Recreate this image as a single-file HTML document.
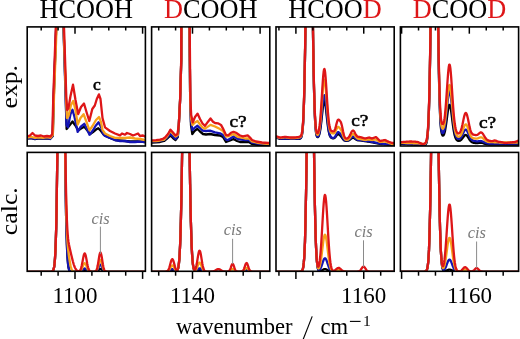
<!DOCTYPE html><html><head><meta charset="utf-8"><style>html,body{margin:0;padding:0;background:#fff;width:520px;height:339px;overflow:hidden}svg{display:block;will-change:transform}text{font-family:"Liberation Serif",serif}</style></head><body>
<svg width="520" height="339" viewBox="0 0 520 339">
<defs>
<clipPath id="c00"><rect x="27.2" y="26.9" width="118.2" height="119.1"/></clipPath>
<clipPath id="c01"><rect x="27.2" y="152.4" width="118.2" height="118.9"/></clipPath>
<clipPath id="c10"><rect x="151.6" y="26.9" width="118.2" height="119.1"/></clipPath>
<clipPath id="c11"><rect x="151.6" y="152.4" width="118.2" height="118.9"/></clipPath>
<clipPath id="c20"><rect x="276.0" y="26.9" width="118.2" height="119.1"/></clipPath>
<clipPath id="c21"><rect x="276.0" y="152.4" width="118.2" height="118.9"/></clipPath>
<clipPath id="c30"><rect x="400.4" y="26.9" width="118.2" height="119.1"/></clipPath>
<clipPath id="c31"><rect x="400.4" y="152.4" width="118.2" height="118.9"/></clipPath>
</defs>
<g clip-path="url(#c00)" fill="none" stroke-linejoin="round" stroke-linecap="round">
<path d="M27.0,138.5 L31.0,138.2 L35.0,139.2 L39.0,138.4 L43.0,138.6 L47.0,138.3 L50.0,139.0 L52.8,136.0 L53.8,97.0 L56.2,27.0 L60.0,-80.0 L63.5,27.0 L65.8,97.0 L66.6,129.0 L69.0,126.0 L72.5,121.5 L75.0,125.0 L78.4,130.4 L81.0,128.5 L84.3,126.7 L87.0,130.0 L90.2,134.0 L93.0,132.0 L96.0,129.5 L98.3,128.2 L101.0,131.0 L104.0,135.0 L109.4,137.8 L115.0,140.0 L120.0,140.5 L125.0,141.0 L130.0,141.5 L135.0,141.5 L140.0,141.5 L145.0,142.0" stroke="#000000" stroke-width="2.3"/>
<path d="M27.0,138.2 L31.0,137.8 L35.0,139.0 L39.0,138.0 L43.0,138.3 L47.0,138.0 L50.0,139.0 L52.6,136.0 L53.6,97.0 L56.2,27.0 L60.0,-80.0 L63.5,27.0 L65.6,97.0 L66.5,125.0 L68.0,127.0 L70.5,114.0 L72.5,109.7 L74.5,117.0 L77.7,131.9 L80.5,127.0 L84.3,123.8 L87.0,129.0 L89.5,134.8 L92.5,131.0 L95.5,126.0 L98.6,122.3 L101.0,127.0 L103.0,133.5 L105.0,136.0 L110.0,138.0 L115.0,140.0 L120.0,141.0 L125.0,141.0 L130.0,142.0 L135.0,142.0 L140.0,141.5 L145.0,142.0" stroke="#1414b4" stroke-width="2.3"/>
<path d="M27.0,137.5 L31.0,136.8 L35.0,137.8 L39.0,137.3 L43.0,137.8 L47.0,137.2 L50.5,137.8 L52.8,135.0 L54.0,97.0 L56.6,27.0 L60.0,-80.0 L63.6,27.0 L65.9,97.0 L67.0,118.0 L68.5,116.0 L71.0,105.0 L73.3,100.9 L75.5,110.0 L77.7,124.5 L80.5,118.0 L83.6,114.2 L86.5,122.0 L89.5,130.4 L92.5,126.0 L96.0,120.0 L99.0,117.0 L101.0,122.0 L102.5,129.8 L105.0,133.5 L110.0,136.0 L115.0,137.8 L120.0,138.0 L125.0,138.0 L130.0,137.5 L135.0,138.5 L140.0,139.0 L145.0,140.0" stroke="#f7a21b" stroke-width="2.3"/>
<path d="M27.0,136.5 L30.0,135.5 L32.5,133.0 L35.0,135.5 L38.0,136.0 L41.0,135.5 L44.0,136.5 L47.0,136.0 L50.5,136.5 L52.3,134.0 L53.3,97.0 L55.8,27.0 L60.0,-80.0 L64.0,27.0 L66.3,97.0 L67.2,110.0 L68.5,108.0 L70.5,96.0 L73.0,84.7 L75.5,100.0 L78.2,114.0 L81.0,107.0 L84.0,103.5 L86.5,112.0 L89.3,121.0 L92.3,109.0 L94.8,105.5 L96.8,99.0 L98.9,94.4 L100.5,99.0 L102.5,118.0 L105.0,127.3 L110.0,131.0 L115.0,133.5 L120.0,135.4 L122.0,133.5 L125.0,134.7 L127.0,133.0 L130.0,134.0 L133.0,135.5 L135.0,134.7 L138.0,133.5 L140.0,136.0 L143.0,135.5 L145.0,136.6" stroke="#de1618" stroke-width="2.3"/>
</g>
<g clip-path="url(#c01)" fill="none" stroke-linejoin="round" stroke-linecap="round">
<path d="M27.0,271.8 L27.4,271.8 L27.8,271.8 L28.2,271.8 L28.6,271.8 L29.0,271.8 L29.4,271.8 L29.8,271.8 L30.2,271.8 L30.6,271.8 L31.0,271.8 L31.4,271.8 L31.8,271.8 L32.2,271.8 L32.6,271.8 L33.0,271.8 L33.4,271.8 L33.8,271.8 L34.2,271.8 L34.6,271.8 L35.0,271.8 L35.4,271.8 L35.8,271.8 L36.2,271.8 L36.6,271.8 L37.0,271.8 L37.4,271.8 L37.8,271.8 L38.2,271.8 L38.6,271.8 L39.0,271.8 L39.4,271.8 L39.8,271.8 L40.2,271.8 L40.6,271.8 L41.0,271.8 L41.4,271.8 L41.8,271.8 L42.2,271.8 L42.6,271.8 L43.0,271.8 L43.4,271.8 L43.8,271.8 L44.2,271.8 L44.6,271.8 L45.0,271.8 L45.4,271.8 L45.8,271.8 L46.2,271.8 L46.6,271.8 L47.0,271.8 L47.4,271.8 L47.8,271.8 L48.2,271.8 L48.6,271.8 L49.0,271.8 L49.4,271.8 L49.8,271.8 L50.2,271.8 L50.6,271.8 L51.0,271.8 L51.4,271.7 L51.8,271.6 L52.2,271.5 L52.6,271.2 L53.0,270.7 L53.4,269.9 L53.8,268.6 L54.2,266.5 L54.6,263.3 L55.0,258.4 L55.4,251.3 L55.8,241.3 L56.2,227.7 L56.6,209.7 L56.9,186.8 L57.3,158.6 L57.7,125.2 L58.1,87.0 L58.5,45.4 L58.9,1.9 L59.3,-41.1 L59.7,-60.0 L60.1,-60.0 L60.5,-60.0 L60.9,-60.0 L61.3,-60.0 L61.7,-60.0 L62.1,-60.0 L62.5,-60.0 L62.9,-60.0 L63.3,-27.9 L63.7,15.5 L64.1,58.7 L64.5,99.4 L64.9,136.1 L65.3,167.9 L65.7,194.5 L66.1,215.8 L66.5,232.4 L66.9,244.8 L67.3,253.8 L67.7,260.1 L68.1,264.4 L68.5,267.3 L68.9,269.1 L69.3,270.2 L69.7,270.9 L70.1,271.3 L70.5,271.5 L70.9,271.7 L71.3,271.7 L71.7,271.8 L72.1,271.8 L72.5,271.8 L72.9,271.8 L73.3,271.8 L73.7,271.8 L74.1,271.8 L74.5,271.8 L74.9,271.8 L75.3,271.8 L75.7,271.8 L76.1,271.8 L76.5,271.8 L76.9,271.8 L77.3,271.8 L77.7,271.8 L78.1,271.8 L78.5,271.8 L78.9,271.8 L79.3,271.7 L79.7,271.7 L80.1,271.7 L80.5,271.6 L80.9,271.5 L81.3,271.3 L81.7,271.1 L82.1,270.9 L82.5,270.7 L82.9,270.5 L83.3,270.2 L83.7,270.0 L84.1,269.9 L84.5,269.8 L84.9,269.8 L85.3,269.9 L85.7,270.0 L86.1,270.2 L86.5,270.5 L86.9,270.7 L87.3,270.9 L87.7,271.1 L88.1,271.3 L88.5,271.5 L88.9,271.6 L89.3,271.7 L89.7,271.7 L90.1,271.7 L90.5,271.8 L90.9,271.8 L91.3,271.8 L91.7,271.8 L92.1,271.8 L92.5,271.8 L92.9,271.8 L93.3,271.8 L93.7,271.8 L94.1,271.8 L94.5,271.8 L94.9,271.8 L95.3,271.7 L95.7,271.7 L96.1,271.6 L96.5,271.5 L96.9,271.4 L97.3,271.2 L97.7,270.9 L98.1,270.5 L98.5,270.2 L98.9,269.8 L99.3,269.4 L99.7,269.1 L100.1,268.9 L100.5,268.9 L100.9,269.0 L101.3,269.2 L101.7,269.5 L102.1,269.9 L102.5,270.3 L102.9,270.7 L103.3,271.0 L103.7,271.2 L104.1,271.4 L104.5,271.6 L104.9,271.7 L105.3,271.7 L105.7,271.8 L106.1,271.8 L106.5,271.8 L106.9,271.8 L107.3,271.8 L107.7,271.8 L108.1,271.8 L108.5,271.8 L108.9,271.8 L109.3,271.8 L109.7,271.8 L110.1,271.8 L110.5,271.8 L110.9,271.8 L111.3,271.8 L111.7,271.8 L112.1,271.8 L112.5,271.8 L112.9,271.8 L113.3,271.8 L113.7,271.8 L114.1,271.8 L114.5,271.8 L114.9,271.8 L115.3,271.8 L115.7,271.8 L116.1,271.8 L116.4,271.8 L116.8,271.8 L117.2,271.8 L117.6,271.8 L118.0,271.8 L118.4,271.8 L118.8,271.8 L119.2,271.8 L119.6,271.8 L120.0,271.8 L120.4,271.8 L120.8,271.8 L121.2,271.8 L121.6,271.8 L122.0,271.8 L122.4,271.8 L122.8,271.8 L123.2,271.8 L123.6,271.8 L124.0,271.8 L124.4,271.8 L124.8,271.8 L125.2,271.8 L125.6,271.8 L126.0,271.8 L126.4,271.8 L126.8,271.8 L127.2,271.8 L127.6,271.8 L128.0,271.8 L128.4,271.8 L128.8,271.8 L129.2,271.8 L129.6,271.8 L130.0,271.8 L130.4,271.8 L130.8,271.8 L131.2,271.8 L131.6,271.8 L132.0,271.8 L132.4,271.8 L132.8,271.8 L133.2,271.8 L133.6,271.8 L134.0,271.8 L134.4,271.8 L134.8,271.8 L135.2,271.8 L135.6,271.8 L136.0,271.8 L136.4,271.8 L136.8,271.8 L137.2,271.8 L137.6,271.8 L138.0,271.8 L138.4,271.8 L138.8,271.8 L139.2,271.8 L139.6,271.8 L140.0,271.8 L140.4,271.8 L140.8,271.8 L141.2,271.8 L141.6,271.8 L142.0,271.8 L142.4,271.8 L142.8,271.8 L143.2,271.8 L143.6,271.8 L144.0,271.8 L144.4,271.8 L144.8,271.8 L145.2,271.8 L145.6,271.8 L146.0,271.8" stroke="#000000" stroke-width="2.3"/>
<path d="M27.0,271.8 L27.4,271.8 L27.8,271.8 L28.2,271.8 L28.6,271.8 L29.0,271.8 L29.4,271.8 L29.8,271.8 L30.2,271.8 L30.6,271.8 L31.0,271.8 L31.4,271.8 L31.8,271.8 L32.2,271.8 L32.6,271.8 L33.0,271.8 L33.4,271.8 L33.8,271.8 L34.2,271.8 L34.6,271.8 L35.0,271.8 L35.4,271.8 L35.8,271.8 L36.2,271.8 L36.6,271.8 L37.0,271.8 L37.4,271.8 L37.8,271.8 L38.2,271.8 L38.6,271.8 L39.0,271.8 L39.4,271.8 L39.8,271.8 L40.2,271.8 L40.6,271.8 L41.0,271.8 L41.4,271.8 L41.8,271.8 L42.2,271.8 L42.6,271.8 L43.0,271.8 L43.4,271.8 L43.8,271.8 L44.2,271.8 L44.6,271.8 L45.0,271.8 L45.4,271.8 L45.8,271.8 L46.2,271.8 L46.6,271.8 L47.0,271.8 L47.4,271.8 L47.8,271.8 L48.2,271.8 L48.6,271.8 L49.0,271.8 L49.4,271.8 L49.8,271.8 L50.2,271.8 L50.6,271.8 L51.0,271.8 L51.4,271.7 L51.8,271.6 L52.2,271.5 L52.6,271.2 L53.0,270.7 L53.4,269.9 L53.8,268.6 L54.2,266.5 L54.6,263.3 L55.0,258.4 L55.4,251.3 L55.8,241.3 L56.2,227.7 L56.6,209.7 L56.9,186.8 L57.3,158.6 L57.7,125.2 L58.1,87.0 L58.5,45.4 L58.9,1.9 L59.3,-41.1 L59.7,-60.0 L60.1,-60.0 L60.5,-60.0 L60.9,-60.0 L61.3,-60.0 L61.7,-60.0 L62.1,-60.0 L62.5,-60.0 L62.9,-60.0 L63.3,-27.9 L63.7,15.5 L64.1,58.7 L64.5,99.4 L64.9,136.1 L65.3,167.9 L65.7,194.5 L66.1,215.8 L66.5,232.4 L66.9,244.8 L67.3,253.8 L67.7,260.1 L68.1,264.4 L68.5,267.3 L68.9,269.1 L69.3,270.2 L69.7,270.9 L70.1,271.3 L70.5,271.5 L70.9,271.7 L71.3,271.7 L71.7,271.8 L72.1,271.8 L72.5,271.8 L72.9,271.8 L73.3,271.8 L73.7,271.8 L74.1,271.8 L74.5,271.8 L74.9,271.8 L75.3,271.8 L75.7,271.8 L76.1,271.8 L76.5,271.8 L76.9,271.8 L77.3,271.8 L77.7,271.8 L78.1,271.8 L78.5,271.8 L78.9,271.7 L79.3,271.7 L79.7,271.7 L80.1,271.6 L80.5,271.4 L80.9,271.3 L81.3,271.0 L81.7,270.7 L82.1,270.4 L82.5,270.0 L82.9,269.6 L83.3,269.2 L83.7,268.9 L84.1,268.6 L84.5,268.5 L84.9,268.5 L85.3,268.6 L85.7,268.9 L86.1,269.2 L86.5,269.6 L86.9,270.0 L87.3,270.4 L87.7,270.7 L88.1,271.0 L88.5,271.3 L88.9,271.4 L89.3,271.6 L89.7,271.7 L90.1,271.7 L90.5,271.8 L90.9,271.8 L91.3,271.8 L91.7,271.8 L92.1,271.8 L92.5,271.8 L92.9,271.8 L93.3,271.8 L93.7,271.8 L94.1,271.8 L94.5,271.8 L94.9,271.7 L95.3,271.7 L95.7,271.6 L96.1,271.4 L96.5,271.1 L96.9,270.7 L97.3,270.2 L97.7,269.5 L98.1,268.7 L98.5,267.7 L98.9,266.8 L99.3,265.9 L99.7,265.2 L100.1,264.7 L100.5,264.6 L100.9,264.8 L101.3,265.4 L101.7,266.2 L102.1,267.1 L102.5,268.1 L102.9,269.0 L103.3,269.8 L103.7,270.4 L104.1,270.9 L104.5,271.2 L104.9,271.5 L105.3,271.6 L105.7,271.7 L106.1,271.7 L106.5,271.8 L106.9,271.8 L107.3,271.8 L107.7,271.8 L108.1,271.8 L108.5,271.8 L108.9,271.8 L109.3,271.8 L109.7,271.8 L110.1,271.8 L110.5,271.8 L110.9,271.8 L111.3,271.8 L111.7,271.8 L112.1,271.8 L112.5,271.8 L112.9,271.8 L113.3,271.8 L113.7,271.8 L114.1,271.8 L114.5,271.8 L114.9,271.8 L115.3,271.8 L115.7,271.8 L116.1,271.8 L116.4,271.8 L116.8,271.8 L117.2,271.8 L117.6,271.8 L118.0,271.8 L118.4,271.8 L118.8,271.8 L119.2,271.8 L119.6,271.8 L120.0,271.8 L120.4,271.8 L120.8,271.8 L121.2,271.8 L121.6,271.8 L122.0,271.8 L122.4,271.8 L122.8,271.8 L123.2,271.8 L123.6,271.8 L124.0,271.8 L124.4,271.8 L124.8,271.8 L125.2,271.8 L125.6,271.8 L126.0,271.8 L126.4,271.8 L126.8,271.8 L127.2,271.8 L127.6,271.8 L128.0,271.8 L128.4,271.8 L128.8,271.8 L129.2,271.8 L129.6,271.8 L130.0,271.8 L130.4,271.8 L130.8,271.8 L131.2,271.8 L131.6,271.8 L132.0,271.8 L132.4,271.8 L132.8,271.8 L133.2,271.8 L133.6,271.8 L134.0,271.8 L134.4,271.8 L134.8,271.8 L135.2,271.8 L135.6,271.8 L136.0,271.8 L136.4,271.8 L136.8,271.8 L137.2,271.8 L137.6,271.8 L138.0,271.8 L138.4,271.8 L138.8,271.8 L139.2,271.8 L139.6,271.8 L140.0,271.8 L140.4,271.8 L140.8,271.8 L141.2,271.8 L141.6,271.8 L142.0,271.8 L142.4,271.8 L142.8,271.8 L143.2,271.8 L143.6,271.8 L144.0,271.8 L144.4,271.8 L144.8,271.8 L145.2,271.8 L145.6,271.8 L146.0,271.8" stroke="#1414b4" stroke-width="2.3"/>
<path d="M27.0,271.8 L27.4,271.8 L27.8,271.8 L28.2,271.8 L28.6,271.8 L29.0,271.8 L29.4,271.8 L29.8,271.8 L30.2,271.8 L30.6,271.8 L31.0,271.8 L31.4,271.8 L31.8,271.8 L32.2,271.8 L32.6,271.8 L33.0,271.8 L33.4,271.8 L33.8,271.8 L34.2,271.8 L34.6,271.8 L35.0,271.8 L35.4,271.8 L35.8,271.8 L36.2,271.8 L36.6,271.8 L37.0,271.8 L37.4,271.8 L37.8,271.8 L38.2,271.8 L38.6,271.8 L39.0,271.8 L39.4,271.8 L39.8,271.8 L40.2,271.8 L40.6,271.8 L41.0,271.8 L41.4,271.8 L41.8,271.8 L42.2,271.8 L42.6,271.8 L43.0,271.8 L43.4,271.8 L43.8,271.8 L44.2,271.8 L44.6,271.8 L45.0,271.8 L45.4,271.8 L45.8,271.8 L46.2,271.8 L46.6,271.8 L47.0,271.8 L47.4,271.8 L47.8,271.8 L48.2,271.8 L48.6,271.8 L49.0,271.8 L49.4,271.8 L49.8,271.8 L50.2,271.8 L50.6,271.8 L51.0,271.8 L51.4,271.7 L51.8,271.6 L52.2,271.5 L52.6,271.2 L53.0,270.7 L53.4,269.9 L53.8,268.6 L54.2,266.5 L54.6,263.3 L55.0,258.4 L55.4,251.3 L55.8,241.3 L56.2,227.7 L56.6,209.7 L56.9,186.8 L57.3,158.6 L57.7,125.2 L58.1,87.0 L58.5,45.4 L58.9,1.9 L59.3,-41.1 L59.7,-60.0 L60.1,-60.0 L60.5,-60.0 L60.9,-60.0 L61.3,-60.0 L61.7,-60.0 L62.1,-60.0 L62.5,-60.0 L62.9,-60.0 L63.3,-28.9 L63.7,13.9 L64.1,56.2 L64.5,95.8 L64.9,131.2 L65.3,161.4 L65.7,186.1 L66.1,205.6 L66.5,220.3 L66.9,231.2 L67.3,239.1 L67.7,244.9 L68.1,249.2 L68.5,252.7 L68.9,255.8 L69.3,258.5 L69.7,261.0 L70.1,263.2 L70.5,265.3 L70.9,267.0 L71.3,268.4 L71.7,269.4 L72.1,270.2 L72.5,270.8 L72.9,271.2 L73.3,271.5 L73.7,271.6 L74.1,271.7 L74.5,271.7 L74.9,271.8 L75.3,271.8 L75.7,271.8 L76.1,271.8 L76.5,271.8 L76.9,271.8 L77.3,271.8 L77.7,271.8 L78.1,271.8 L78.5,271.7 L78.9,271.7 L79.3,271.6 L79.7,271.4 L80.1,271.2 L80.5,270.8 L80.9,270.4 L81.3,269.8 L81.7,269.0 L82.1,268.1 L82.5,267.1 L82.9,266.0 L83.3,265.1 L83.7,264.2 L84.1,263.6 L84.5,263.2 L84.9,263.2 L85.3,263.6 L85.7,264.2 L86.1,265.1 L86.5,266.1 L86.9,267.1 L87.3,268.1 L87.7,269.0 L88.1,269.8 L88.5,270.4 L88.9,270.8 L89.3,271.2 L89.7,271.4 L90.1,271.6 L90.5,271.7 L90.9,271.7 L91.3,271.8 L91.7,271.8 L92.1,271.8 L92.5,271.8 L92.9,271.8 L93.3,271.8 L93.7,271.8 L94.1,271.8 L94.5,271.7 L94.9,271.7 L95.3,271.6 L95.7,271.4 L96.1,271.1 L96.5,270.7 L96.9,270.0 L97.3,269.1 L97.7,268.0 L98.1,266.6 L98.5,265.0 L98.9,263.4 L99.3,261.9 L99.7,260.7 L100.1,260.0 L100.5,259.8 L100.9,260.2 L101.3,261.1 L101.7,262.5 L102.1,264.0 L102.5,265.6 L102.9,267.1 L103.3,268.4 L103.7,269.5 L104.1,270.3 L104.5,270.9 L104.9,271.2 L105.3,271.5 L105.7,271.6 L106.1,271.7 L106.5,271.8 L106.9,271.8 L107.3,271.8 L107.7,271.8 L108.1,271.8 L108.5,271.8 L108.9,271.8 L109.3,271.8 L109.7,271.8 L110.1,271.8 L110.5,271.8 L110.9,271.8 L111.3,271.8 L111.7,271.8 L112.1,271.8 L112.5,271.8 L112.9,271.8 L113.3,271.8 L113.7,271.8 L114.1,271.8 L114.5,271.8 L114.9,271.8 L115.3,271.8 L115.7,271.8 L116.1,271.8 L116.4,271.8 L116.8,271.8 L117.2,271.8 L117.6,271.8 L118.0,271.8 L118.4,271.8 L118.8,271.8 L119.2,271.8 L119.6,271.8 L120.0,271.8 L120.4,271.8 L120.8,271.8 L121.2,271.8 L121.6,271.8 L122.0,271.8 L122.4,271.8 L122.8,271.8 L123.2,271.8 L123.6,271.8 L124.0,271.8 L124.4,271.8 L124.8,271.8 L125.2,271.8 L125.6,271.8 L126.0,271.8 L126.4,271.8 L126.8,271.8 L127.2,271.8 L127.6,271.8 L128.0,271.8 L128.4,271.8 L128.8,271.8 L129.2,271.8 L129.6,271.8 L130.0,271.8 L130.4,271.8 L130.8,271.8 L131.2,271.8 L131.6,271.8 L132.0,271.8 L132.4,271.8 L132.8,271.8 L133.2,271.8 L133.6,271.8 L134.0,271.8 L134.4,271.8 L134.8,271.8 L135.2,271.8 L135.6,271.8 L136.0,271.8 L136.4,271.8 L136.8,271.8 L137.2,271.8 L137.6,271.8 L138.0,271.8 L138.4,271.8 L138.8,271.8 L139.2,271.8 L139.6,271.8 L140.0,271.8 L140.4,271.8 L140.8,271.8 L141.2,271.8 L141.6,271.8 L142.0,271.8 L142.4,271.8 L142.8,271.8 L143.2,271.8 L143.6,271.8 L144.0,271.8 L144.4,271.8 L144.8,271.8 L145.2,271.8 L145.6,271.8 L146.0,271.8" stroke="#f7a21b" stroke-width="2.3"/>
<path d="M27.0,271.8 L27.4,271.8 L27.8,271.8 L28.2,271.8 L28.6,271.8 L29.0,271.8 L29.4,271.8 L29.8,271.8 L30.2,271.8 L30.6,271.8 L31.0,271.8 L31.4,271.8 L31.8,271.8 L32.2,271.8 L32.6,271.8 L33.0,271.8 L33.4,271.8 L33.8,271.8 L34.2,271.8 L34.6,271.8 L35.0,271.8 L35.4,271.8 L35.8,271.8 L36.2,271.8 L36.6,271.8 L37.0,271.8 L37.4,271.8 L37.8,271.8 L38.2,271.8 L38.6,271.8 L39.0,271.8 L39.4,271.8 L39.8,271.8 L40.2,271.8 L40.6,271.8 L41.0,271.8 L41.4,271.8 L41.8,271.8 L42.2,271.8 L42.6,271.8 L43.0,271.8 L43.4,271.8 L43.8,271.8 L44.2,271.8 L44.6,271.8 L45.0,271.8 L45.4,271.8 L45.8,271.8 L46.2,271.8 L46.6,271.8 L47.0,271.8 L47.4,271.8 L47.8,271.8 L48.2,271.8 L48.6,271.8 L49.0,271.8 L49.4,271.8 L49.8,271.8 L50.2,271.8 L50.6,271.8 L51.0,271.8 L51.4,271.7 L51.8,271.6 L52.2,271.5 L52.6,271.2 L53.0,270.7 L53.4,269.9 L53.8,268.6 L54.2,266.5 L54.6,263.2 L55.0,258.3 L55.4,251.2 L55.8,241.2 L56.2,227.5 L56.6,209.4 L56.9,186.4 L57.3,158.1 L57.7,124.5 L58.1,86.2 L58.5,44.3 L58.9,0.5 L59.3,-42.9 L59.7,-60.0 L60.1,-60.0 L60.5,-60.0 L60.9,-60.0 L61.3,-60.0 L61.7,-60.0 L62.1,-60.0 L62.5,-60.0 L62.9,-60.0 L63.3,-40.0 L63.7,1.8 L64.1,43.2 L64.5,82.3 L64.9,117.4 L65.3,147.6 L65.7,172.7 L66.1,192.8 L66.5,208.2 L66.9,219.8 L67.3,228.3 L67.7,234.3 L68.1,238.7 L68.5,241.9 L68.9,244.3 L69.3,246.3 L69.7,248.1 L70.1,249.8 L70.5,251.5 L70.9,253.2 L71.3,254.9 L71.7,256.6 L72.1,258.3 L72.5,259.9 L72.9,261.5 L73.3,262.9 L73.7,264.3 L74.1,265.5 L74.5,266.5 L74.9,267.5 L75.3,268.3 L75.7,269.0 L76.1,269.6 L76.5,270.1 L76.9,270.4 L77.3,270.7 L77.7,271.0 L78.1,271.1 L78.5,271.2 L78.9,271.2 L79.3,271.1 L79.7,270.8 L80.1,270.4 L80.5,269.7 L80.9,268.7 L81.3,267.4 L81.7,265.8 L82.1,263.8 L82.5,261.7 L82.9,259.5 L83.3,257.4 L83.7,255.5 L84.1,254.2 L84.5,253.5 L84.9,253.5 L85.3,254.2 L85.7,255.6 L86.1,257.4 L86.5,259.5 L86.9,261.7 L87.3,263.9 L87.7,265.8 L88.1,267.5 L88.5,268.8 L88.9,269.8 L89.3,270.5 L89.7,271.0 L90.1,271.3 L90.5,271.5 L90.9,271.6 L91.3,271.7 L91.7,271.8 L92.1,271.8 L92.5,271.8 L92.9,271.8 L93.3,271.8 L93.7,271.8 L94.1,271.8 L94.5,271.7 L94.9,271.6 L95.3,271.5 L95.7,271.2 L96.1,270.7 L96.5,270.0 L96.9,268.9 L97.3,267.5 L97.7,265.6 L98.1,263.4 L98.5,260.9 L98.9,258.3 L99.3,255.9 L99.7,254.0 L100.1,252.8 L100.5,252.5 L100.9,253.2 L101.3,254.7 L101.7,256.8 L102.1,259.3 L102.5,261.9 L102.9,264.3 L103.3,266.4 L103.7,268.1 L104.1,269.4 L104.5,270.3 L104.9,270.9 L105.3,271.3 L105.7,271.5 L106.1,271.7 L106.5,271.7 L106.9,271.8 L107.3,271.8 L107.7,271.8 L108.1,271.8 L108.5,271.8 L108.9,271.8 L109.3,271.8 L109.7,271.8 L110.1,271.8 L110.5,271.8 L110.9,271.8 L111.3,271.8 L111.7,271.8 L112.1,271.8 L112.5,271.8 L112.9,271.8 L113.3,271.8 L113.7,271.8 L114.1,271.8 L114.5,271.8 L114.9,271.8 L115.3,271.8 L115.7,271.8 L116.1,271.8 L116.4,271.8 L116.8,271.8 L117.2,271.8 L117.6,271.8 L118.0,271.8 L118.4,271.8 L118.8,271.8 L119.2,271.8 L119.6,271.8 L120.0,271.8 L120.4,271.8 L120.8,271.8 L121.2,271.8 L121.6,271.8 L122.0,271.8 L122.4,271.8 L122.8,271.8 L123.2,271.8 L123.6,271.8 L124.0,271.8 L124.4,271.8 L124.8,271.8 L125.2,271.8 L125.6,271.8 L126.0,271.8 L126.4,271.8 L126.8,271.8 L127.2,271.8 L127.6,271.8 L128.0,271.8 L128.4,271.8 L128.8,271.8 L129.2,271.8 L129.6,271.8 L130.0,271.8 L130.4,271.8 L130.8,271.8 L131.2,271.8 L131.6,271.8 L132.0,271.8 L132.4,271.8 L132.8,271.8 L133.2,271.8 L133.6,271.8 L134.0,271.8 L134.4,271.8 L134.8,271.8 L135.2,271.8 L135.6,271.8 L136.0,271.8 L136.4,271.8 L136.8,271.8 L137.2,271.8 L137.6,271.8 L138.0,271.8 L138.4,271.8 L138.8,271.8 L139.2,271.8 L139.6,271.8 L140.0,271.8 L140.4,271.8 L140.8,271.8 L141.2,271.8 L141.6,271.8 L142.0,271.8 L142.4,271.8 L142.8,271.8 L143.2,271.8 L143.6,271.8 L144.0,271.8 L144.4,271.8 L144.8,271.8 L145.2,271.8 L145.6,271.8 L146.0,271.8" stroke="#de1618" stroke-width="2.3"/>
</g>
<g clip-path="url(#c10)" fill="none" stroke-linejoin="round" stroke-linecap="round">
<path d="M152.0,142.5 L156.0,142.3 L160.0,142.0 L164.0,141.0 L167.0,138.5 L170.5,135.5 L173.0,138.0 L175.5,140.0 L177.8,137.0 L178.8,125.0 L180.1,100.0 L181.3,60.0 L181.5,27.0 L185.5,-80.0 L189.5,27.0 L189.8,60.0 L190.2,100.0 L191.0,125.0 L192.3,134.0 L194.5,131.0 L197.3,128.8 L200.0,131.5 L203.0,134.0 L206.0,134.5 L210.0,134.0 L215.0,135.0 L220.0,135.5 L223.0,137.0 L226.0,142.0 L230.0,140.5 L233.5,139.0 L237.0,141.0 L240.0,142.0 L245.0,142.0 L249.0,142.0 L252.0,144.0 L258.0,145.0 L264.0,145.3 L270.0,145.5" stroke="#000000" stroke-width="2.3"/>
<path d="M152.0,141.5 L156.0,141.3 L160.0,141.0 L164.0,140.0 L167.0,137.5 L170.5,134.0 L173.0,136.5 L175.5,139.0 L177.8,136.0 L178.8,125.0 L180.1,100.0 L181.3,60.0 L181.5,27.0 L185.5,-80.0 L189.5,27.0 L189.8,60.0 L190.2,100.0 L191.0,122.0 L192.5,130.0 L195.0,127.5 L197.5,125.8 L200.0,128.0 L202.5,130.5 L206.0,131.0 L210.0,130.7 L215.0,132.3 L220.0,133.3 L223.0,134.9 L226.0,139.7 L228.0,140.0 L233.5,136.5 L238.0,139.0 L245.0,140.0 L249.0,140.0 L252.0,142.5 L258.0,143.5 L264.0,144.2 L270.0,144.5" stroke="#1414b4" stroke-width="2.3"/>
<path d="M152.0,141.2 L156.0,141.0 L160.0,140.5 L164.0,139.6 L167.0,136.5 L170.5,131.0 L173.0,133.8 L175.5,136.5 L177.8,135.0 L178.8,125.0 L180.1,100.0 L181.3,60.0 L181.5,27.0 L185.5,-80.0 L189.5,27.0 L189.8,60.0 L190.2,100.0 L191.0,118.0 L192.5,125.0 L195.0,122.5 L197.5,121.0 L200.0,124.5 L202.5,127.5 L205.0,128.6 L210.5,124.9 L215.0,126.5 L220.0,129.1 L223.0,131.0 L226.0,136.5 L229.0,136.0 L233.5,134.0 L238.0,137.0 L245.0,138.5 L249.0,138.5 L252.0,141.5 L258.0,142.8 L264.0,143.5 L270.0,144.0" stroke="#f7a21b" stroke-width="2.3"/>
<path d="M152.0,140.4 L156.0,140.2 L160.0,139.7 L163.0,138.8 L165.0,137.5 L168.0,134.0 L170.5,129.7 L173.0,132.5 L175.5,135.4 L177.5,134.0 L178.8,125.0 L180.1,100.0 L181.2,60.0 L181.3,27.0 L185.5,-80.0 L189.7,27.0 L190.0,60.0 L190.4,100.0 L191.2,115.0 L192.8,122.4 L195.0,117.0 L197.5,113.6 L200.0,119.0 L202.5,123.5 L205.0,125.9 L208.0,121.7 L210.5,118.5 L213.0,121.7 L215.0,123.0 L218.0,123.3 L221.0,124.9 L223.0,128.6 L226.0,134.9 L228.0,135.5 L231.0,132.8 L233.5,131.8 L236.0,132.8 L240.0,135.5 L243.0,136.3 L247.7,135.3 L250.0,137.5 L252.0,140.0 L256.0,141.5 L262.0,142.5 L268.0,143.0 L270.0,143.0" stroke="#de1618" stroke-width="2.3"/>
</g>
<g clip-path="url(#c11)" fill="none" stroke-linejoin="round" stroke-linecap="round">
<path d="M151.0,271.8 L151.4,271.8 L151.8,271.8 L152.2,271.8 L152.6,271.8 L153.0,271.8 L153.4,271.8 L153.8,271.8 L154.2,271.8 L154.6,271.8 L155.0,271.8 L155.4,271.8 L155.8,271.8 L156.2,271.8 L156.6,271.8 L157.0,271.8 L157.4,271.8 L157.8,271.8 L158.2,271.8 L158.6,271.8 L159.0,271.8 L159.4,271.8 L159.8,271.8 L160.2,271.8 L160.6,271.8 L161.0,271.8 L161.4,271.8 L161.8,271.8 L162.2,271.8 L162.6,271.8 L163.0,271.8 L163.4,271.8 L163.8,271.8 L164.2,271.8 L164.6,271.8 L165.0,271.8 L165.4,271.8 L165.8,271.8 L166.1,271.8 L166.5,271.8 L166.9,271.7 L167.3,271.7 L167.7,271.7 L168.1,271.6 L168.5,271.5 L168.9,271.4 L169.3,271.2 L169.7,271.0 L170.1,270.8 L170.5,270.6 L170.9,270.4 L171.3,270.2 L171.7,270.1 L172.1,270.0 L172.5,270.0 L172.9,270.1 L173.3,270.2 L173.7,270.4 L174.1,270.6 L174.5,270.8 L174.9,271.0 L175.3,271.2 L175.7,271.3 L176.1,271.3 L176.5,271.2 L176.9,271.0 L177.3,270.5 L177.7,269.8 L178.1,268.5 L178.5,266.5 L178.9,263.6 L179.3,259.3 L179.7,253.3 L180.1,245.0 L180.5,233.9 L180.9,219.6 L181.3,201.6 L181.7,179.7 L182.1,154.0 L182.5,124.9 L182.9,92.9 L183.3,59.4 L183.7,25.8 L184.1,-6.1 L184.5,-34.5 L184.9,-57.5 L185.3,-60.0 L185.7,-60.0 L186.1,-60.0 L186.5,-60.0 L186.9,-54.0 L187.3,-30.0 L187.7,-0.9 L188.1,31.5 L188.5,65.2 L188.9,98.5 L189.3,130.0 L189.7,158.6 L190.1,183.7 L190.5,204.9 L190.9,222.2 L191.3,236.0 L191.7,246.6 L192.1,254.4 L192.5,260.2 L192.9,264.2 L193.3,266.9 L193.7,268.7 L194.1,269.9 L194.5,270.6 L194.9,271.1 L195.3,271.3 L195.7,271.3 L196.0,271.3 L196.4,271.2 L196.8,271.0 L197.2,270.8 L197.6,270.6 L198.0,270.3 L198.4,270.1 L198.8,269.9 L199.2,269.8 L199.6,269.8 L200.0,269.8 L200.4,270.0 L200.8,270.1 L201.2,270.4 L201.6,270.6 L202.0,270.8 L202.4,271.1 L202.8,271.3 L203.2,271.4 L203.6,271.5 L204.0,271.6 L204.4,271.7 L204.8,271.7 L205.2,271.8 L205.6,271.8 L206.0,271.8 L206.4,271.8 L206.8,271.8 L207.2,271.8 L207.6,271.8 L208.0,271.8 L208.4,271.8 L208.8,271.8 L209.2,271.8 L209.6,271.8 L210.0,271.8 L210.4,271.8 L210.8,271.8 L211.2,271.8 L211.6,271.8 L212.0,271.8 L212.4,271.8 L212.8,271.8 L213.2,271.8 L213.6,271.8 L214.0,271.8 L214.4,271.8 L214.8,271.8 L215.2,271.8 L215.6,271.8 L216.0,271.8 L216.4,271.8 L216.8,271.8 L217.2,271.8 L217.6,271.8 L218.0,271.8 L218.4,271.8 L218.8,271.8 L219.2,271.8 L219.6,271.8 L220.0,271.8 L220.4,271.8 L220.8,271.8 L221.2,271.8 L221.6,271.8 L222.0,271.8 L222.4,271.8 L222.8,271.8 L223.2,271.8 L223.6,271.8 L224.0,271.8 L224.4,271.8 L224.8,271.8 L225.2,271.8 L225.6,271.8 L226.0,271.8 L226.3,271.8 L226.7,271.8 L227.1,271.8 L227.5,271.8 L227.9,271.8 L228.3,271.8 L228.7,271.8 L229.1,271.8 L229.5,271.8 L229.9,271.8 L230.3,271.8 L230.7,271.8 L231.1,271.8 L231.5,271.8 L231.9,271.8 L232.3,271.8 L232.7,271.8 L233.1,271.8 L233.5,271.8 L233.9,271.8 L234.3,271.8 L234.7,271.8 L235.1,271.8 L235.5,271.8 L235.9,271.8 L236.3,271.8 L236.7,271.8 L237.1,271.8 L237.5,271.8 L237.9,271.8 L238.3,271.8 L238.7,271.8 L239.1,271.8 L239.5,271.8 L239.9,271.8 L240.3,271.8 L240.7,271.8 L241.1,271.8 L241.5,271.8 L241.9,271.8 L242.3,271.8 L242.7,271.8 L243.1,271.8 L243.5,271.8 L243.9,271.8 L244.3,271.8 L244.7,271.8 L245.1,271.8 L245.5,271.8 L245.9,271.8 L246.3,271.8 L246.7,271.8 L247.1,271.8 L247.5,271.8 L247.9,271.8 L248.3,271.8 L248.7,271.8 L249.1,271.8 L249.5,271.8 L249.9,271.8 L250.3,271.8 L250.7,271.8 L251.1,271.8 L251.5,271.8 L251.9,271.8 L252.3,271.8 L252.7,271.8 L253.1,271.8 L253.5,271.8 L253.9,271.8 L254.3,271.8 L254.7,271.8 L255.1,271.8 L255.5,271.8 L255.9,271.8 L256.2,271.8 L256.6,271.8 L257.0,271.8 L257.4,271.8 L257.8,271.8 L258.2,271.8 L258.6,271.8 L259.0,271.8 L259.4,271.8 L259.8,271.8 L260.2,271.8 L260.6,271.8 L261.0,271.8 L261.4,271.8 L261.8,271.8 L262.2,271.8 L262.6,271.8 L263.0,271.8 L263.4,271.8 L263.8,271.8 L264.2,271.8 L264.6,271.8 L265.0,271.8 L265.4,271.8 L265.8,271.8 L266.2,271.8 L266.6,271.8 L267.0,271.8 L267.4,271.8 L267.8,271.8 L268.2,271.8 L268.6,271.8 L269.0,271.8 L269.4,271.8 L269.8,271.8 L270.2,271.8 L270.6,271.8 L271.0,271.8" stroke="#000000" stroke-width="2.3"/>
<path d="M151.0,271.8 L151.4,271.8 L151.8,271.8 L152.2,271.8 L152.6,271.8 L153.0,271.8 L153.4,271.8 L153.8,271.8 L154.2,271.8 L154.6,271.8 L155.0,271.8 L155.4,271.8 L155.8,271.8 L156.2,271.8 L156.6,271.8 L157.0,271.8 L157.4,271.8 L157.8,271.8 L158.2,271.8 L158.6,271.8 L159.0,271.8 L159.4,271.8 L159.8,271.8 L160.2,271.8 L160.6,271.8 L161.0,271.8 L161.4,271.8 L161.8,271.8 L162.2,271.8 L162.6,271.8 L163.0,271.8 L163.4,271.8 L163.8,271.8 L164.2,271.8 L164.6,271.8 L165.0,271.8 L165.4,271.8 L165.8,271.8 L166.1,271.8 L166.5,271.8 L166.9,271.7 L167.3,271.7 L167.7,271.6 L168.1,271.5 L168.5,271.3 L168.9,271.1 L169.3,270.9 L169.7,270.6 L170.1,270.3 L170.5,270.0 L170.9,269.7 L171.3,269.4 L171.7,269.2 L172.1,269.1 L172.5,269.1 L172.9,269.2 L173.3,269.4 L173.7,269.7 L174.1,270.0 L174.5,270.3 L174.9,270.6 L175.3,270.9 L175.7,271.1 L176.1,271.1 L176.5,271.1 L176.9,270.9 L177.3,270.5 L177.7,269.7 L178.1,268.5 L178.5,266.5 L178.9,263.6 L179.3,259.3 L179.7,253.3 L180.1,245.0 L180.5,233.9 L180.9,219.6 L181.3,201.6 L181.7,179.7 L182.1,154.0 L182.5,124.9 L182.9,92.9 L183.3,59.4 L183.7,25.8 L184.1,-6.1 L184.5,-34.5 L184.9,-57.5 L185.3,-60.0 L185.7,-60.0 L186.1,-60.0 L186.5,-60.0 L186.9,-54.0 L187.3,-30.0 L187.7,-0.9 L188.1,31.5 L188.5,65.2 L188.9,98.5 L189.3,130.0 L189.7,158.6 L190.1,183.7 L190.5,204.9 L190.9,222.2 L191.3,236.0 L191.7,246.6 L192.1,254.4 L192.5,260.2 L192.9,264.2 L193.3,266.9 L193.7,268.7 L194.1,269.9 L194.5,270.6 L194.9,271.0 L195.3,271.1 L195.7,271.1 L196.0,271.0 L196.4,270.7 L196.8,270.4 L197.2,270.0 L197.6,269.6 L198.0,269.2 L198.4,268.8 L198.8,268.5 L199.2,268.4 L199.6,268.3 L200.0,268.4 L200.4,268.6 L200.8,268.9 L201.2,269.3 L201.6,269.7 L202.0,270.1 L202.4,270.5 L202.8,270.8 L203.2,271.1 L203.6,271.3 L204.0,271.5 L204.4,271.6 L204.8,271.7 L205.2,271.7 L205.6,271.8 L206.0,271.8 L206.4,271.8 L206.8,271.8 L207.2,271.8 L207.6,271.8 L208.0,271.8 L208.4,271.8 L208.8,271.8 L209.2,271.8 L209.6,271.8 L210.0,271.8 L210.4,271.8 L210.8,271.8 L211.2,271.8 L211.6,271.8 L212.0,271.8 L212.4,271.8 L212.8,271.8 L213.2,271.8 L213.6,271.8 L214.0,271.8 L214.4,271.8 L214.8,271.8 L215.2,271.8 L215.6,271.8 L216.0,271.8 L216.4,271.8 L216.8,271.8 L217.2,271.8 L217.6,271.8 L218.0,271.8 L218.4,271.8 L218.8,271.8 L219.2,271.8 L219.6,271.8 L220.0,271.8 L220.4,271.8 L220.8,271.8 L221.2,271.8 L221.6,271.8 L222.0,271.8 L222.4,271.8 L222.8,271.8 L223.2,271.8 L223.6,271.8 L224.0,271.8 L224.4,271.8 L224.8,271.8 L225.2,271.8 L225.6,271.8 L226.0,271.8 L226.3,271.8 L226.7,271.8 L227.1,271.8 L227.5,271.8 L227.9,271.8 L228.3,271.8 L228.7,271.8 L229.1,271.8 L229.5,271.8 L229.9,271.8 L230.3,271.8 L230.7,271.8 L231.1,271.8 L231.5,271.8 L231.9,271.8 L232.3,271.8 L232.7,271.8 L233.1,271.8 L233.5,271.8 L233.9,271.8 L234.3,271.8 L234.7,271.8 L235.1,271.8 L235.5,271.8 L235.9,271.8 L236.3,271.8 L236.7,271.8 L237.1,271.8 L237.5,271.8 L237.9,271.8 L238.3,271.8 L238.7,271.8 L239.1,271.8 L239.5,271.8 L239.9,271.8 L240.3,271.8 L240.7,271.8 L241.1,271.8 L241.5,271.8 L241.9,271.7 L242.3,271.7 L242.7,271.6 L243.1,271.5 L243.5,271.4 L243.9,271.2 L244.3,270.9 L244.7,270.7 L245.1,270.4 L245.5,270.1 L245.9,269.9 L246.3,269.8 L246.7,269.8 L247.1,269.9 L247.5,270.1 L247.9,270.4 L248.3,270.6 L248.7,270.9 L249.1,271.2 L249.5,271.4 L249.9,271.5 L250.3,271.6 L250.7,271.7 L251.1,271.7 L251.5,271.8 L251.9,271.8 L252.3,271.8 L252.7,271.8 L253.1,271.8 L253.5,271.8 L253.9,271.8 L254.3,271.8 L254.7,271.8 L255.1,271.8 L255.5,271.8 L255.9,271.8 L256.2,271.8 L256.6,271.8 L257.0,271.8 L257.4,271.8 L257.8,271.8 L258.2,271.8 L258.6,271.8 L259.0,271.8 L259.4,271.8 L259.8,271.8 L260.2,271.8 L260.6,271.8 L261.0,271.8 L261.4,271.8 L261.8,271.8 L262.2,271.8 L262.6,271.8 L263.0,271.8 L263.4,271.8 L263.8,271.8 L264.2,271.8 L264.6,271.8 L265.0,271.8 L265.4,271.8 L265.8,271.8 L266.2,271.8 L266.6,271.8 L267.0,271.8 L267.4,271.8 L267.8,271.8 L268.2,271.8 L268.6,271.8 L269.0,271.8 L269.4,271.8 L269.8,271.8 L270.2,271.8 L270.6,271.8 L271.0,271.8" stroke="#1414b4" stroke-width="2.3"/>
<path d="M151.0,271.8 L151.4,271.8 L151.8,271.8 L152.2,271.8 L152.6,271.8 L153.0,271.8 L153.4,271.8 L153.8,271.8 L154.2,271.8 L154.6,271.8 L155.0,271.8 L155.4,271.8 L155.8,271.8 L156.2,271.8 L156.6,271.8 L157.0,271.8 L157.4,271.8 L157.8,271.8 L158.2,271.8 L158.6,271.8 L159.0,271.8 L159.4,271.8 L159.8,271.8 L160.2,271.8 L160.6,271.8 L161.0,271.8 L161.4,271.8 L161.8,271.8 L162.2,271.8 L162.6,271.8 L163.0,271.8 L163.4,271.8 L163.8,271.8 L164.2,271.8 L164.6,271.8 L165.0,271.8 L165.4,271.8 L165.8,271.8 L166.1,271.7 L166.5,271.7 L166.9,271.6 L167.3,271.5 L167.7,271.3 L168.1,271.1 L168.5,270.7 L168.9,270.3 L169.3,269.7 L169.7,269.0 L170.1,268.3 L170.5,267.5 L170.9,266.8 L171.3,266.2 L171.7,265.7 L172.1,265.5 L172.5,265.5 L172.9,265.8 L173.3,266.3 L173.7,266.9 L174.1,267.6 L174.5,268.4 L174.9,269.1 L175.3,269.7 L175.7,270.2 L176.1,270.6 L176.5,270.7 L176.9,270.7 L177.3,270.3 L177.7,269.6 L178.1,268.4 L178.5,266.5 L178.9,263.6 L179.3,259.3 L179.7,253.3 L180.1,245.0 L180.5,233.9 L180.9,219.6 L181.3,201.6 L181.7,179.7 L182.1,154.0 L182.5,124.9 L182.9,92.9 L183.3,59.4 L183.7,25.8 L184.1,-6.1 L184.5,-34.5 L184.9,-57.5 L185.3,-60.0 L185.7,-60.0 L186.1,-60.0 L186.5,-60.0 L186.9,-54.0 L187.3,-30.0 L187.7,-0.9 L188.1,31.5 L188.5,65.2 L188.9,98.5 L189.3,130.0 L189.7,158.6 L190.1,183.7 L190.5,204.9 L190.9,222.2 L191.3,236.0 L191.7,246.6 L192.1,254.4 L192.5,260.1 L192.9,264.2 L193.3,266.9 L193.7,268.7 L194.1,269.8 L194.5,270.4 L194.9,270.6 L195.3,270.6 L195.7,270.3 L196.0,269.8 L196.4,269.1 L196.8,268.2 L197.2,267.2 L197.6,266.1 L198.0,265.0 L198.4,264.0 L198.8,263.2 L199.2,262.7 L199.6,262.6 L200.0,262.8 L200.4,263.4 L200.8,264.2 L201.2,265.2 L201.6,266.3 L202.0,267.4 L202.4,268.4 L202.8,269.3 L203.2,270.0 L203.6,270.6 L204.0,271.0 L204.4,271.3 L204.8,271.5 L205.2,271.6 L205.6,271.7 L206.0,271.7 L206.4,271.8 L206.8,271.8 L207.2,271.8 L207.6,271.8 L208.0,271.8 L208.4,271.8 L208.8,271.8 L209.2,271.8 L209.6,271.8 L210.0,271.8 L210.4,271.8 L210.8,271.8 L211.2,271.8 L211.6,271.8 L212.0,271.8 L212.4,271.8 L212.8,271.8 L213.2,271.8 L213.6,271.8 L214.0,271.8 L214.4,271.8 L214.8,271.8 L215.2,271.8 L215.6,271.8 L216.0,271.8 L216.4,271.8 L216.8,271.8 L217.2,271.8 L217.6,271.8 L218.0,271.8 L218.4,271.8 L218.8,271.8 L219.2,271.8 L219.6,271.8 L220.0,271.8 L220.4,271.8 L220.8,271.8 L221.2,271.8 L221.6,271.8 L222.0,271.8 L222.4,271.8 L222.8,271.8 L223.2,271.8 L223.6,271.8 L224.0,271.8 L224.4,271.8 L224.8,271.8 L225.2,271.8 L225.6,271.8 L226.0,271.8 L226.3,271.8 L226.7,271.8 L227.1,271.8 L227.5,271.8 L227.9,271.8 L228.3,271.7 L228.7,271.6 L229.1,271.5 L229.5,271.3 L229.9,271.1 L230.3,270.7 L230.7,270.3 L231.1,269.9 L231.5,269.5 L231.9,269.1 L232.3,268.9 L232.7,268.9 L233.1,269.1 L233.5,269.3 L233.9,269.7 L234.3,270.2 L234.7,270.6 L235.1,271.0 L235.5,271.3 L235.9,271.5 L236.3,271.6 L236.7,271.7 L237.1,271.7 L237.5,271.8 L237.9,271.8 L238.3,271.8 L238.7,271.8 L239.1,271.8 L239.5,271.8 L239.9,271.8 L240.3,271.8 L240.7,271.8 L241.1,271.8 L241.5,271.7 L241.9,271.7 L242.3,271.6 L242.7,271.5 L243.1,271.3 L243.5,271.0 L243.9,270.6 L244.3,270.1 L244.7,269.5 L245.1,269.0 L245.5,268.5 L245.9,268.1 L246.3,267.8 L246.7,267.8 L247.1,268.0 L247.5,268.4 L247.9,268.9 L248.3,269.5 L248.7,270.0 L249.1,270.5 L249.5,270.9 L249.9,271.2 L250.3,271.5 L250.7,271.6 L251.1,271.7 L251.5,271.7 L251.9,271.8 L252.3,271.8 L252.7,271.8 L253.1,271.8 L253.5,271.8 L253.9,271.8 L254.3,271.8 L254.7,271.8 L255.1,271.8 L255.5,271.8 L255.9,271.8 L256.2,271.8 L256.6,271.8 L257.0,271.8 L257.4,271.8 L257.8,271.8 L258.2,271.8 L258.6,271.8 L259.0,271.8 L259.4,271.8 L259.8,271.8 L260.2,271.8 L260.6,271.8 L261.0,271.8 L261.4,271.8 L261.8,271.8 L262.2,271.8 L262.6,271.8 L263.0,271.8 L263.4,271.8 L263.8,271.8 L264.2,271.8 L264.6,271.8 L265.0,271.8 L265.4,271.8 L265.8,271.8 L266.2,271.8 L266.6,271.8 L267.0,271.8 L267.4,271.8 L267.8,271.8 L268.2,271.8 L268.6,271.8 L269.0,271.8 L269.4,271.8 L269.8,271.8 L270.2,271.8 L270.6,271.8 L271.0,271.8" stroke="#f7a21b" stroke-width="2.3"/>
<path d="M151.0,271.8 L151.4,271.8 L151.8,271.8 L152.2,271.8 L152.6,271.8 L153.0,271.8 L153.4,271.8 L153.8,271.8 L154.2,271.8 L154.6,271.8 L155.0,271.8 L155.4,271.8 L155.8,271.8 L156.2,271.8 L156.6,271.8 L157.0,271.8 L157.4,271.8 L157.8,271.8 L158.2,271.8 L158.6,271.8 L159.0,271.8 L159.4,271.8 L159.8,271.8 L160.2,271.8 L160.6,271.8 L161.0,271.8 L161.4,271.8 L161.8,271.8 L162.2,271.8 L162.6,271.8 L163.0,271.8 L163.4,271.8 L163.8,271.8 L164.2,271.8 L164.6,271.8 L165.0,271.8 L165.4,271.8 L165.8,271.7 L166.1,271.7 L166.5,271.6 L166.9,271.4 L167.3,271.2 L167.7,270.9 L168.1,270.3 L168.5,269.6 L168.9,268.7 L169.3,267.6 L169.7,266.2 L170.1,264.7 L170.5,263.2 L170.9,261.7 L171.3,260.5 L171.7,259.6 L172.1,259.1 L172.5,259.2 L172.9,259.7 L173.3,260.7 L173.7,261.9 L174.1,263.4 L174.5,264.9 L174.9,266.4 L175.3,267.7 L175.7,268.7 L176.1,269.5 L176.5,270.0 L176.9,270.2 L177.3,270.1 L177.7,269.5 L178.1,268.3 L178.5,266.4 L178.9,263.5 L179.3,259.3 L179.7,253.3 L180.1,245.0 L180.5,233.9 L180.9,219.6 L181.3,201.6 L181.7,179.7 L182.1,154.0 L182.5,124.9 L182.9,92.9 L183.3,59.4 L183.7,25.8 L184.1,-6.1 L184.5,-34.5 L184.9,-57.5 L185.3,-60.0 L185.7,-60.0 L186.1,-60.0 L186.5,-60.0 L186.9,-54.0 L187.3,-30.0 L187.7,-0.9 L188.1,31.5 L188.5,65.2 L188.9,98.5 L189.3,130.0 L189.7,158.6 L190.1,183.7 L190.5,204.9 L190.9,222.2 L191.3,236.0 L191.7,246.6 L192.1,254.4 L192.5,260.1 L192.9,264.1 L193.3,266.8 L193.7,268.5 L194.1,269.5 L194.5,269.9 L194.9,269.9 L195.3,269.4 L195.7,268.6 L196.0,267.3 L196.4,265.6 L196.8,263.6 L197.2,261.2 L197.6,258.6 L198.0,256.1 L198.4,253.9 L198.8,252.1 L199.2,250.9 L199.6,250.6 L200.0,251.1 L200.4,252.4 L200.8,254.3 L201.2,256.6 L201.6,259.1 L202.0,261.7 L202.4,264.0 L202.8,266.0 L203.2,267.7 L203.6,269.0 L204.0,270.0 L204.4,270.6 L204.8,271.1 L205.2,271.4 L205.6,271.6 L206.0,271.7 L206.4,271.7 L206.8,271.8 L207.2,271.8 L207.6,271.8 L208.0,271.8 L208.4,271.8 L208.8,271.8 L209.2,271.8 L209.6,271.8 L210.0,271.8 L210.4,271.8 L210.8,271.8 L211.2,271.8 L211.6,271.7 L212.0,271.7 L212.4,271.6 L212.8,271.6 L213.2,271.5 L213.6,271.3 L214.0,271.2 L214.4,271.0 L214.8,270.8 L215.2,270.6 L215.6,270.3 L216.0,270.0 L216.4,269.8 L216.8,269.6 L217.2,269.4 L217.6,269.2 L218.0,269.1 L218.4,269.1 L218.8,269.1 L219.2,269.3 L219.6,269.4 L220.0,269.6 L220.4,269.9 L220.8,270.1 L221.2,270.4 L221.6,270.6 L222.0,270.9 L222.4,271.1 L222.8,271.3 L223.2,271.4 L223.6,271.5 L224.0,271.6 L224.4,271.7 L224.8,271.7 L225.2,271.7 L225.6,271.8 L226.0,271.8 L226.3,271.8 L226.7,271.8 L227.1,271.8 L227.5,271.7 L227.9,271.7 L228.3,271.6 L228.7,271.4 L229.1,271.0 L229.5,270.5 L229.9,269.8 L230.3,268.9 L230.7,267.8 L231.1,266.6 L231.5,265.5 L231.9,264.6 L232.3,264.0 L232.7,263.9 L233.1,264.3 L233.5,265.1 L233.9,266.2 L234.3,267.4 L234.7,268.5 L235.1,269.5 L235.5,270.3 L235.9,270.9 L236.3,271.3 L236.7,271.5 L237.1,271.7 L237.5,271.7 L237.9,271.8 L238.3,271.8 L238.7,271.8 L239.1,271.8 L239.5,271.8 L239.9,271.8 L240.3,271.8 L240.7,271.8 L241.1,271.7 L241.5,271.7 L241.9,271.6 L242.3,271.4 L242.7,271.1 L243.1,270.6 L243.5,270.0 L243.9,269.1 L244.3,268.0 L244.7,266.8 L245.1,265.6 L245.5,264.4 L245.9,263.6 L246.3,263.1 L246.7,263.0 L247.1,263.5 L247.5,264.3 L247.9,265.5 L248.3,266.7 L248.7,267.9 L249.1,269.0 L249.5,269.9 L249.9,270.6 L250.3,271.0 L250.7,271.4 L251.1,271.6 L251.5,271.7 L251.9,271.7 L252.3,271.8 L252.7,271.8 L253.1,271.8 L253.5,271.8 L253.9,271.8 L254.3,271.8 L254.7,271.8 L255.1,271.8 L255.5,271.8 L255.9,271.8 L256.2,271.8 L256.6,271.8 L257.0,271.8 L257.4,271.8 L257.8,271.8 L258.2,271.8 L258.6,271.8 L259.0,271.8 L259.4,271.8 L259.8,271.8 L260.2,271.8 L260.6,271.8 L261.0,271.8 L261.4,271.8 L261.8,271.8 L262.2,271.8 L262.6,271.8 L263.0,271.8 L263.4,271.8 L263.8,271.8 L264.2,271.8 L264.6,271.8 L265.0,271.8 L265.4,271.8 L265.8,271.8 L266.2,271.8 L266.6,271.8 L267.0,271.8 L267.4,271.8 L267.8,271.8 L268.2,271.8 L268.6,271.8 L269.0,271.8 L269.4,271.8 L269.8,271.8 L270.2,271.8 L270.6,271.8 L271.0,271.8" stroke="#de1618" stroke-width="2.3"/>
</g>
<g clip-path="url(#c20)" fill="none" stroke-linejoin="round" stroke-linecap="round">
<path d="M276.5,137.9 L276.9,137.9 L277.3,138.0 L277.7,138.1 L278.1,138.3 L278.5,138.4 L278.9,138.5 L279.3,138.7 L279.7,138.8 L280.1,138.9 L280.5,138.9 L280.9,138.9 L281.3,138.9 L281.7,138.9 L282.1,138.9 L282.5,138.9 L282.9,138.9 L283.3,138.9 L283.7,138.9 L284.1,138.9 L284.5,138.9 L284.9,138.9 L285.3,138.9 L285.7,138.9 L286.1,138.9 L286.5,138.9 L286.9,138.9 L287.3,138.9 L287.7,138.9 L288.1,138.9 L288.5,138.9 L288.9,138.9 L289.3,138.9 L289.7,138.9 L290.1,138.9 L290.5,138.9 L290.9,138.9 L291.3,138.9 L291.7,138.9 L292.1,138.9 L292.5,138.9 L292.9,138.9 L293.3,138.9 L293.7,138.9 L294.1,138.9 L294.5,138.9 L294.9,138.9 L295.3,138.9 L295.7,138.9 L296.1,138.9 L296.4,138.9 L296.8,138.9 L297.2,138.9 L297.6,138.9 L298.0,138.9 L298.4,138.9 L298.8,138.9 L299.2,138.8 L299.6,138.8 L300.0,138.6 L300.4,138.4 L300.8,138.0 L301.2,137.4 L301.6,136.3 L302.0,134.6 L302.4,131.9 L302.8,127.8 L303.2,122.0 L303.6,113.6 L304.0,102.2 L304.4,87.2 L304.8,67.9 L305.2,44.1 L305.6,15.8 L306.0,-16.6 L306.4,-52.2 L306.8,-60.0 L307.2,-60.0 L307.6,-60.0 L308.0,-60.0 L308.4,-60.0 L308.8,-60.0 L309.2,-60.0 L309.6,-60.0 L310.0,-60.0 L310.4,-60.0 L310.8,-60.0 L311.2,-60.0 L311.6,-60.0 L312.0,-49.0 L312.4,-13.7 L312.8,18.4 L313.2,46.3 L313.6,69.7 L314.0,88.6 L314.4,103.4 L314.8,114.4 L315.2,122.5 L315.6,128.2 L316.0,132.1 L316.4,134.6 L316.8,136.1 L317.2,136.9 L317.6,137.2 L318.0,137.1 L318.4,136.6 L318.8,135.9 L319.2,134.7 L319.6,133.2 L320.0,131.2 L320.4,128.8 L320.8,125.9 L321.2,122.6 L321.6,118.9 L322.0,115.2 L322.4,111.4 L322.8,107.9 L323.2,104.9 L323.6,102.6 L324.0,101.2 L324.4,101.0 L324.8,101.7 L325.2,103.5 L325.6,106.0 L326.0,109.2 L326.4,112.8 L326.8,116.6 L327.2,120.3 L327.6,123.7 L328.0,126.9 L328.4,129.6 L328.8,131.8 L329.2,133.6 L329.6,135.0 L330.0,136.0 L330.4,136.8 L330.8,137.3 L331.2,137.7 L331.6,138.0 L332.0,138.1 L332.4,138.3 L332.8,138.3 L333.2,138.3 L333.6,138.3 L334.0,138.2 L334.4,138.0 L334.8,137.7 L335.2,137.4 L335.6,136.9 L335.9,136.4 L336.3,135.8 L336.7,135.2 L337.1,134.7 L337.5,134.3 L337.9,134.1 L338.3,134.1 L338.7,134.3 L339.1,134.6 L339.5,134.9 L339.9,135.3 L340.3,135.7 L340.7,136.0 L341.1,136.5 L341.5,137.0 L341.9,137.5 L342.3,138.1 L342.7,138.7 L343.1,139.2 L343.5,139.8 L343.9,140.2 L344.3,140.5 L344.7,140.6 L345.1,140.7 L345.5,140.8 L345.9,140.8 L346.3,140.8 L346.7,140.8 L347.1,140.8 L347.5,140.7 L347.9,140.7 L348.3,140.6 L348.7,140.4 L349.1,140.2 L349.5,140.0 L349.9,139.7 L350.3,139.3 L350.7,139.0 L351.1,138.6 L351.5,138.3 L351.9,138.1 L352.3,137.9 L352.7,137.7 L353.1,137.7 L353.5,137.8 L353.9,138.0 L354.3,138.2 L354.7,138.5 L355.1,138.8 L355.5,139.1 L355.9,139.4 L356.3,139.7 L356.7,139.9 L357.1,140.0 L357.5,140.2 L357.9,140.3 L358.3,140.3 L358.7,140.4 L359.1,140.4 L359.5,140.4 L359.9,140.4 L360.3,140.4 L360.7,140.5 L361.1,140.6 L361.5,140.6 L361.9,140.7 L362.3,140.7 L362.7,140.8 L363.1,140.9 L363.5,140.9 L363.9,141.0 L364.3,141.0 L364.7,141.1 L365.1,141.2 L365.5,141.2 L365.9,141.3 L366.3,141.3 L366.7,141.4 L367.1,141.5 L367.5,141.5 L367.9,141.6 L368.3,141.6 L368.7,141.7 L369.1,141.8 L369.5,141.8 L369.9,141.9 L370.3,142.0 L370.7,142.0 L371.1,142.1 L371.5,142.2 L371.9,142.3 L372.3,142.4 L372.7,142.4 L373.1,142.5 L373.5,142.6 L373.9,142.7 L374.3,142.8 L374.7,142.8 L375.1,142.9 L375.4,143.0 L375.8,143.1 L376.2,143.1 L376.6,143.2 L377.0,143.3 L377.4,143.4 L377.8,143.5 L378.2,143.5 L378.6,143.6 L379.0,143.7 L379.4,143.8 L379.8,143.9 L380.2,143.9 L380.6,144.0 L381.0,144.0 L381.4,144.0 L381.8,144.1 L382.2,144.1 L382.6,144.1 L383.0,144.2 L383.4,144.2 L383.8,144.2 L384.2,144.3 L384.6,144.3 L385.0,144.3 L385.4,144.4 L385.8,144.4 L386.2,144.4 L386.6,144.5 L387.0,144.5 L387.4,144.5 L387.8,144.6 L388.2,144.6 L388.6,144.6 L389.0,144.7 L389.4,144.7 L389.8,144.7 L390.2,144.8 L390.6,144.8 L391.0,144.8 L391.4,144.9 L391.8,144.9 L392.2,144.9 L392.6,144.9 L393.0,144.9 L393.4,144.9 L393.8,144.9 L394.2,144.9 L394.6,144.9 L395.0,144.9" stroke="#000000" stroke-width="2.3"/>
<path d="M276.5,137.5 L276.9,137.5 L277.3,137.6 L277.7,137.7 L278.1,137.9 L278.5,138.0 L278.9,138.1 L279.3,138.3 L279.7,138.4 L280.1,138.5 L280.5,138.5 L280.9,138.5 L281.3,138.5 L281.7,138.5 L282.1,138.5 L282.5,138.5 L282.9,138.5 L283.3,138.5 L283.7,138.5 L284.1,138.5 L284.5,138.5 L284.9,138.5 L285.3,138.5 L285.7,138.5 L286.1,138.5 L286.5,138.5 L286.9,138.5 L287.3,138.5 L287.7,138.5 L288.1,138.5 L288.5,138.5 L288.9,138.5 L289.3,138.5 L289.7,138.5 L290.1,138.5 L290.5,138.5 L290.9,138.5 L291.3,138.5 L291.7,138.5 L292.1,138.5 L292.5,138.5 L292.9,138.5 L293.3,138.5 L293.7,138.5 L294.1,138.5 L294.5,138.5 L294.9,138.5 L295.3,138.5 L295.7,138.5 L296.1,138.5 L296.4,138.5 L296.8,138.5 L297.2,138.5 L297.6,138.5 L298.0,138.5 L298.4,138.5 L298.8,138.5 L299.2,138.4 L299.6,138.4 L300.0,138.2 L300.4,138.0 L300.8,137.6 L301.2,137.0 L301.6,135.9 L302.0,134.2 L302.4,131.5 L302.8,127.4 L303.2,121.6 L303.6,113.2 L304.0,101.8 L304.4,86.8 L304.8,67.5 L305.2,43.7 L305.6,15.4 L306.0,-17.0 L306.4,-52.6 L306.8,-60.0 L307.2,-60.0 L307.6,-60.0 L308.0,-60.0 L308.4,-60.0 L308.8,-60.0 L309.2,-60.0 L309.6,-60.0 L310.0,-60.0 L310.4,-60.0 L310.8,-60.0 L311.2,-60.0 L311.6,-60.0 L312.0,-49.4 L312.4,-14.1 L312.8,18.0 L313.2,45.9 L313.6,69.3 L314.0,88.2 L314.4,103.0 L314.8,114.0 L315.2,122.1 L315.6,127.8 L316.0,131.7 L316.4,134.2 L316.8,135.7 L317.2,136.4 L317.6,136.7 L318.0,136.5 L318.4,136.0 L318.8,135.1 L319.2,133.8 L319.6,132.0 L320.0,129.8 L320.4,127.0 L320.8,123.6 L321.2,119.8 L321.6,115.7 L322.0,111.3 L322.4,107.0 L322.8,103.0 L323.2,99.6 L323.6,97.0 L324.0,95.4 L324.4,95.1 L324.8,95.9 L325.2,97.9 L325.6,100.9 L326.0,104.5 L326.4,108.6 L326.8,113.0 L327.2,117.2 L327.6,121.2 L328.0,124.8 L328.4,127.9 L328.8,130.5 L329.2,132.5 L329.6,134.1 L330.0,135.3 L330.4,136.2 L330.8,136.8 L331.2,137.2 L331.6,137.5 L332.0,137.7 L332.4,137.8 L332.8,137.9 L333.2,137.9 L333.6,137.8 L334.0,137.7 L334.4,137.4 L334.8,137.0 L335.2,136.5 L335.6,135.9 L335.9,135.2 L336.3,134.4 L336.7,133.6 L337.1,132.9 L337.5,132.4 L337.9,132.1 L338.3,132.1 L338.7,132.3 L339.1,132.6 L339.5,132.9 L339.9,133.4 L340.3,133.8 L340.7,134.2 L341.1,134.7 L341.5,135.3 L341.9,136.0 L342.3,136.8 L342.7,137.5 L343.1,138.3 L343.5,139.0 L343.9,139.5 L344.3,139.9 L344.7,140.1 L345.1,140.3 L345.5,140.4 L345.9,140.4 L346.3,140.4 L346.7,140.4 L347.1,140.4 L347.5,140.3 L347.9,140.2 L348.3,140.1 L348.7,139.9 L349.1,139.6 L349.5,139.3 L349.9,138.9 L350.3,138.5 L350.7,138.1 L351.1,137.7 L351.5,137.3 L351.9,136.9 L352.3,136.7 L352.7,136.5 L353.1,136.5 L353.5,136.6 L353.9,136.9 L354.3,137.2 L354.7,137.5 L355.1,137.9 L355.5,138.3 L355.9,138.7 L356.3,139.0 L356.7,139.3 L357.1,139.5 L357.5,139.7 L357.9,139.8 L358.3,139.9 L358.7,139.9 L359.1,140.0 L359.5,140.0 L359.9,140.0 L360.3,140.0 L360.7,140.1 L361.1,140.2 L361.5,140.2 L361.9,140.3 L362.3,140.3 L362.7,140.4 L363.1,140.5 L363.5,140.5 L363.9,140.6 L364.3,140.6 L364.7,140.7 L365.1,140.8 L365.5,140.8 L365.9,140.9 L366.3,140.9 L366.7,141.0 L367.1,141.1 L367.5,141.1 L367.9,141.2 L368.3,141.2 L368.7,141.3 L369.1,141.4 L369.5,141.4 L369.9,141.5 L370.3,141.6 L370.7,141.6 L371.1,141.7 L371.5,141.8 L371.9,141.9 L372.3,142.0 L372.7,142.0 L373.1,142.1 L373.5,142.2 L373.9,142.3 L374.3,142.4 L374.7,142.4 L375.1,142.5 L375.4,142.6 L375.8,142.7 L376.2,142.7 L376.6,142.8 L377.0,142.9 L377.4,143.0 L377.8,143.1 L378.2,143.1 L378.6,143.2 L379.0,143.3 L379.4,143.4 L379.8,143.5 L380.2,143.5 L380.6,143.6 L381.0,143.6 L381.4,143.6 L381.8,143.7 L382.2,143.7 L382.6,143.7 L383.0,143.8 L383.4,143.8 L383.8,143.8 L384.2,143.9 L384.6,143.9 L385.0,143.9 L385.4,144.0 L385.8,144.0 L386.2,144.0 L386.6,144.1 L387.0,144.1 L387.4,144.1 L387.8,144.2 L388.2,144.2 L388.6,144.2 L389.0,144.3 L389.4,144.3 L389.8,144.3 L390.2,144.4 L390.6,144.4 L391.0,144.4 L391.4,144.5 L391.8,144.5 L392.2,144.5 L392.6,144.5 L393.0,144.5 L393.4,144.5 L393.8,144.5 L394.2,144.5 L394.6,144.5 L395.0,144.5" stroke="#1414b4" stroke-width="2.3"/>
<path d="M276.5,137.0 L276.9,137.0 L277.3,137.1 L277.7,137.2 L278.1,137.4 L278.5,137.5 L278.9,137.6 L279.3,137.8 L279.7,137.9 L280.1,138.0 L280.5,137.9 L280.9,137.9 L281.3,137.8 L281.7,137.8 L282.1,137.7 L282.5,137.7 L282.9,137.6 L283.3,137.5 L283.7,137.5 L284.1,137.4 L284.5,137.4 L284.9,137.3 L285.3,137.3 L285.7,137.4 L286.1,137.5 L286.5,137.5 L286.9,137.6 L287.3,137.6 L287.7,137.7 L288.1,137.7 L288.5,137.8 L288.9,137.8 L289.3,137.9 L289.7,138.0 L290.1,138.0 L290.5,138.0 L290.9,138.0 L291.3,138.0 L291.7,138.0 L292.1,138.0 L292.5,138.0 L292.9,138.0 L293.3,138.0 L293.7,138.0 L294.1,138.0 L294.5,138.0 L294.9,138.0 L295.3,138.0 L295.7,137.9 L296.1,137.9 L296.4,137.9 L296.8,137.8 L297.2,137.8 L297.6,137.7 L298.0,137.7 L298.4,137.6 L298.8,137.6 L299.2,137.5 L299.6,137.4 L300.0,137.2 L300.4,137.0 L300.8,136.6 L301.2,136.0 L301.6,134.9 L302.0,133.2 L302.4,130.5 L302.8,126.4 L303.2,120.6 L303.6,112.2 L304.0,100.8 L304.4,85.8 L304.8,66.5 L305.2,42.7 L305.6,14.4 L306.0,-18.0 L306.4,-53.6 L306.8,-60.0 L307.2,-60.0 L307.6,-60.0 L308.0,-60.0 L308.4,-60.0 L308.8,-60.0 L309.2,-60.0 L309.6,-60.0 L310.0,-60.0 L310.4,-60.0 L310.8,-60.0 L311.2,-60.0 L311.6,-60.0 L312.0,-50.6 L312.4,-15.3 L312.8,16.8 L313.2,44.7 L313.6,68.0 L314.0,86.9 L314.4,101.6 L314.8,112.7 L315.2,120.7 L315.6,126.4 L316.0,130.2 L316.4,132.6 L316.8,134.0 L317.2,134.7 L317.6,134.8 L318.0,134.5 L318.4,133.7 L318.8,132.4 L319.2,130.7 L319.6,128.3 L320.0,125.3 L320.4,121.7 L320.8,117.3 L321.2,112.3 L321.6,106.9 L322.0,101.2 L322.4,95.5 L322.8,90.3 L323.2,85.7 L323.6,82.3 L324.0,80.2 L324.4,79.7 L324.8,80.7 L325.2,83.2 L325.6,86.9 L326.0,91.6 L326.4,96.8 L326.8,102.4 L327.2,107.8 L327.6,112.9 L328.0,117.5 L328.4,121.4 L328.8,124.7 L329.2,127.2 L329.6,129.2 L330.0,130.6 L330.4,131.7 L330.8,132.4 L331.2,132.8 L331.6,133.1 L332.0,133.2 L332.4,133.3 L332.8,133.4 L333.2,133.5 L333.6,133.4 L334.0,133.3 L334.4,133.1 L334.8,132.7 L335.2,132.1 L335.6,131.4 L335.9,130.5 L336.3,129.6 L336.7,128.7 L337.1,127.9 L337.5,127.3 L337.9,126.9 L338.3,126.9 L338.7,127.1 L339.1,127.5 L339.5,127.9 L339.9,128.3 L340.3,128.8 L340.7,129.4 L341.1,130.1 L341.5,130.9 L341.9,132.0 L342.3,133.2 L342.7,134.4 L343.1,135.6 L343.5,136.6 L343.9,137.5 L344.3,138.2 L344.7,138.8 L345.1,139.2 L345.5,139.6 L345.9,139.8 L346.3,139.9 L346.7,139.9 L347.1,139.8 L347.5,139.7 L347.9,139.6 L348.3,139.4 L348.7,139.1 L349.1,138.7 L349.5,138.3 L349.9,137.7 L350.3,137.1 L350.7,136.4 L351.1,135.8 L351.5,135.2 L351.9,134.7 L352.3,134.3 L352.7,134.1 L353.1,134.0 L353.5,134.1 L353.9,134.4 L354.3,134.8 L354.7,135.4 L355.1,135.9 L355.5,136.5 L355.9,137.0 L356.3,137.4 L356.7,137.8 L357.1,138.1 L357.5,138.4 L357.9,138.6 L358.3,138.7 L358.7,138.8 L359.1,138.9 L359.5,138.9 L359.9,139.0 L360.3,139.0 L360.7,139.1 L361.1,139.2 L361.5,139.3 L361.9,139.4 L362.3,139.5 L362.7,139.5 L363.1,139.6 L363.5,139.7 L363.9,139.8 L364.3,139.9 L364.7,139.9 L365.1,140.0 L365.5,139.9 L365.9,139.9 L366.3,139.8 L366.7,139.8 L367.1,139.7 L367.5,139.7 L367.9,139.6 L368.3,139.6 L368.7,139.5 L369.1,139.5 L369.5,139.6 L369.9,139.6 L370.3,139.7 L370.7,139.8 L371.1,139.8 L371.5,139.9 L371.9,140.0 L372.3,140.0 L372.7,139.9 L373.1,139.9 L373.5,139.8 L373.9,139.8 L374.3,139.7 L374.7,139.7 L375.1,139.6 L375.4,139.6 L375.8,139.5 L376.2,139.7 L376.6,139.9 L377.0,140.2 L377.4,140.4 L377.8,140.7 L378.2,140.9 L378.6,141.2 L379.0,141.4 L379.4,141.6 L379.8,141.9 L380.2,142.0 L380.6,141.9 L381.0,141.9 L381.4,141.9 L381.8,141.8 L382.2,141.8 L382.6,141.7 L383.0,141.7 L383.4,141.7 L383.8,141.6 L384.2,141.6 L384.6,141.5 L385.0,141.5 L385.4,141.7 L385.8,141.8 L386.2,141.9 L386.6,142.1 L387.0,142.2 L387.4,142.4 L387.8,142.5 L388.2,142.6 L388.6,142.8 L389.0,142.9 L389.4,143.1 L389.8,143.2 L390.2,143.4 L390.6,143.5 L391.0,143.6 L391.4,143.8 L391.8,143.9 L392.2,144.0 L392.6,144.0 L393.0,144.0 L393.4,144.0 L393.8,144.0 L394.2,144.0 L394.6,144.0 L395.0,144.0" stroke="#f7a21b" stroke-width="2.3"/>
<path d="M276.5,136.5 L276.9,136.5 L277.3,136.6 L277.7,136.8 L278.1,136.9 L278.5,137.0 L278.9,137.2 L279.3,137.3 L279.7,137.5 L280.1,137.6 L280.5,137.5 L280.9,137.5 L281.3,137.4 L281.7,137.3 L282.1,137.3 L282.5,137.2 L282.9,137.1 L283.3,137.1 L283.7,137.0 L284.1,136.9 L284.5,136.9 L284.9,136.8 L285.3,136.8 L285.7,136.9 L286.1,137.0 L286.5,137.0 L286.9,137.1 L287.3,137.1 L287.7,137.2 L288.1,137.2 L288.5,137.3 L288.9,137.3 L289.3,137.4 L289.7,137.5 L290.1,137.5 L290.5,137.5 L290.9,137.5 L291.3,137.5 L291.7,137.5 L292.1,137.5 L292.5,137.5 L292.9,137.5 L293.3,137.5 L293.7,137.5 L294.1,137.5 L294.5,137.5 L294.9,137.5 L295.3,137.5 L295.7,137.4 L296.1,137.4 L296.4,137.3 L296.8,137.2 L297.2,137.2 L297.6,137.1 L298.0,137.1 L298.4,137.0 L298.8,136.9 L299.2,136.8 L299.6,136.7 L300.0,136.5 L300.4,136.3 L300.8,135.9 L301.2,135.2 L301.6,134.1 L302.0,132.3 L302.4,129.6 L302.8,125.5 L303.2,119.6 L303.6,111.2 L304.0,99.8 L304.4,84.7 L304.8,65.4 L305.2,41.6 L305.6,13.2 L306.0,-19.2 L306.4,-54.9 L306.8,-60.0 L307.2,-60.0 L307.6,-60.0 L308.0,-60.0 L308.4,-60.0 L308.8,-60.0 L309.2,-60.0 L309.6,-60.0 L310.0,-60.0 L310.4,-60.0 L310.8,-60.0 L311.2,-60.0 L311.6,-60.0 L312.0,-52.1 L312.4,-16.8 L312.8,15.3 L313.2,43.2 L313.6,66.5 L314.0,85.4 L314.4,100.1 L314.8,111.1 L315.2,119.2 L315.6,124.8 L316.0,128.7 L316.4,131.1 L316.8,132.5 L317.2,133.1 L317.6,133.1 L318.0,132.7 L318.4,131.8 L318.8,130.3 L319.2,128.3 L319.6,125.5 L320.0,122.1 L320.4,117.8 L320.8,112.7 L321.2,106.9 L321.6,100.6 L322.0,94.0 L322.4,87.4 L322.8,81.3 L323.2,76.0 L323.6,72.0 L324.0,69.6 L324.4,69.0 L324.8,70.1 L325.2,73.0 L325.6,77.3 L326.0,82.8 L326.4,88.9 L326.8,95.4 L327.2,101.7 L327.6,107.7 L328.0,113.0 L328.4,117.5 L328.8,121.3 L329.2,124.3 L329.6,126.6 L330.0,128.2 L330.4,129.4 L330.8,130.2 L331.2,130.7 L331.6,131.0 L332.0,131.2 L332.4,131.2 L332.8,131.4 L333.2,131.4 L333.6,131.3 L334.0,131.1 L334.4,130.6 L334.8,129.9 L335.2,128.9 L335.6,127.7 L335.9,126.2 L336.3,124.6 L336.7,123.1 L337.1,121.7 L337.5,120.6 L337.9,119.9 L338.3,119.6 L338.7,119.7 L339.1,120.0 L339.5,120.3 L339.9,120.8 L340.3,121.2 L340.7,121.9 L341.1,122.8 L341.5,124.1 L341.9,125.7 L342.3,127.6 L342.7,129.6 L343.1,131.6 L343.5,133.3 L343.9,134.9 L344.3,136.1 L344.7,137.0 L345.1,137.7 L345.5,138.2 L345.9,138.5 L346.3,138.6 L346.7,138.5 L347.1,138.4 L347.5,138.3 L347.9,138.0 L348.3,137.7 L348.7,137.3 L349.1,136.8 L349.5,136.1 L349.9,135.4 L350.3,134.6 L350.7,133.7 L351.1,132.8 L351.5,132.0 L351.9,131.4 L352.3,130.9 L352.7,130.6 L353.1,130.5 L353.5,130.7 L353.9,131.1 L354.3,131.7 L354.7,132.4 L355.1,133.2 L355.5,134.0 L355.9,134.7 L356.3,135.3 L356.7,135.8 L357.1,136.3 L357.5,136.6 L357.9,136.8 L358.3,136.9 L358.7,137.0 L359.1,137.0 L359.5,137.0 L359.9,137.0 L360.3,137.1 L360.7,137.2 L361.1,137.3 L361.5,137.4 L361.9,137.6 L362.3,137.7 L362.7,137.8 L363.1,137.9 L363.5,138.0 L363.9,138.2 L364.3,138.3 L364.7,138.4 L365.1,138.5 L365.5,138.4 L365.9,138.3 L366.3,138.2 L366.7,138.1 L367.1,138.0 L367.5,137.9 L367.9,137.8 L368.3,137.7 L368.7,137.6 L369.1,137.5 L369.5,137.7 L369.9,137.8 L370.3,137.9 L370.7,138.1 L371.1,138.2 L371.5,138.3 L371.9,138.5 L372.3,138.4 L372.7,138.3 L373.1,138.1 L373.5,138.0 L373.9,137.8 L374.3,137.7 L374.7,137.5 L375.1,137.4 L375.4,137.2 L375.8,137.1 L376.2,137.2 L376.6,137.6 L377.0,138.0 L377.4,138.4 L377.8,138.8 L378.2,139.2 L378.6,139.6 L379.0,140.0 L379.4,140.4 L379.8,140.8 L380.2,141.0 L380.6,140.9 L381.0,140.8 L381.4,140.7 L381.8,140.6 L382.2,140.6 L382.6,140.5 L383.0,140.4 L383.4,140.3 L383.8,140.2 L384.2,140.2 L384.6,140.1 L385.0,140.0 L385.4,140.2 L385.8,140.4 L386.2,140.6 L386.6,140.8 L387.0,141.0 L387.4,141.2 L387.8,141.4 L388.2,141.6 L388.6,141.7 L389.0,141.9 L389.4,142.0 L389.8,142.2 L390.2,142.3 L390.6,142.5 L391.0,142.6 L391.4,142.8 L391.8,142.9 L392.2,143.0 L392.6,143.0 L393.0,143.0 L393.4,143.0 L393.8,143.0 L394.2,143.0 L394.6,143.0 L395.0,143.0" stroke="#de1618" stroke-width="2.3"/>
</g>
<g clip-path="url(#c21)" fill="none" stroke-linejoin="round" stroke-linecap="round">
<path d="M275.0,271.8 L275.4,271.8 L275.8,271.8 L276.2,271.8 L276.6,271.8 L277.0,271.8 L277.4,271.8 L277.8,271.8 L278.2,271.8 L278.6,271.8 L279.0,271.8 L279.4,271.8 L279.8,271.8 L280.2,271.8 L280.6,271.8 L281.0,271.8 L281.4,271.8 L281.8,271.8 L282.2,271.8 L282.6,271.8 L283.0,271.8 L283.4,271.8 L283.8,271.8 L284.2,271.8 L284.6,271.8 L285.0,271.8 L285.4,271.8 L285.8,271.8 L286.2,271.8 L286.6,271.8 L287.0,271.8 L287.4,271.8 L287.8,271.8 L288.2,271.8 L288.6,271.8 L289.0,271.8 L289.4,271.8 L289.8,271.8 L290.2,271.8 L290.6,271.8 L291.0,271.8 L291.4,271.8 L291.8,271.8 L292.2,271.8 L292.6,271.8 L293.0,271.8 L293.4,271.8 L293.8,271.8 L294.2,271.8 L294.6,271.8 L295.0,271.8 L295.4,271.8 L295.8,271.8 L296.2,271.8 L296.6,271.8 L297.0,271.8 L297.4,271.8 L297.8,271.8 L298.2,271.8 L298.6,271.8 L299.0,271.8 L299.4,271.8 L299.8,271.8 L300.2,271.7 L300.6,271.7 L301.0,271.6 L301.4,271.4 L301.8,271.1 L302.2,270.6 L302.6,269.7 L303.0,268.3 L303.4,266.1 L303.8,262.7 L304.2,257.8 L304.6,250.8 L305.0,241.2 L305.3,228.2 L305.7,211.5 L306.1,190.5 L306.5,165.1 L306.9,135.5 L307.3,102.2 L307.7,66.5 L308.1,29.7 L308.5,-6.0 L308.9,-38.7 L309.3,-60.0 L309.7,-60.0 L310.1,-60.0 L310.5,-60.0 L310.9,-60.0 L311.3,-60.0 L311.7,-47.3 L312.1,-16.0 L312.5,19.1 L312.9,55.7 L313.3,92.0 L313.7,126.1 L314.1,156.9 L314.5,183.5 L314.9,205.8 L315.3,223.7 L315.7,237.7 L316.1,248.3 L316.5,256.0 L316.9,261.5 L317.3,265.2 L317.7,267.7 L318.1,269.2 L318.5,270.2 L318.9,270.8 L319.3,271.1 L319.7,271.2 L320.1,271.2 L320.5,271.1 L320.9,270.9 L321.3,270.8 L321.7,270.5 L322.1,270.3 L322.5,270.1 L322.9,269.8 L323.3,269.6 L323.7,269.4 L324.1,269.2 L324.5,269.1 L324.9,269.1 L325.3,269.1 L325.7,269.2 L326.1,269.3 L326.5,269.5 L326.9,269.7 L327.3,270.0 L327.7,270.2 L328.1,270.4 L328.5,270.7 L328.9,270.9 L329.3,271.1 L329.7,271.2 L330.1,271.4 L330.5,271.5 L330.9,271.6 L331.3,271.6 L331.7,271.7 L332.1,271.7 L332.5,271.8 L332.9,271.8 L333.3,271.8 L333.7,271.8 L334.1,271.8 L334.5,271.8 L334.9,271.8 L335.3,271.8 L335.7,271.8 L336.1,271.8 L336.5,271.8 L336.9,271.8 L337.3,271.8 L337.7,271.8 L338.1,271.8 L338.5,271.8 L338.9,271.8 L339.3,271.8 L339.7,271.8 L340.1,271.8 L340.5,271.8 L340.9,271.8 L341.3,271.8 L341.7,271.8 L342.1,271.8 L342.5,271.8 L342.9,271.8 L343.3,271.8 L343.7,271.8 L344.1,271.8 L344.5,271.8 L344.9,271.8 L345.3,271.8 L345.7,271.8 L346.1,271.8 L346.5,271.8 L346.9,271.8 L347.3,271.8 L347.7,271.8 L348.1,271.8 L348.5,271.8 L348.9,271.8 L349.3,271.8 L349.7,271.8 L350.1,271.8 L350.5,271.8 L350.9,271.8 L351.3,271.8 L351.7,271.8 L352.1,271.8 L352.5,271.8 L352.9,271.8 L353.3,271.8 L353.7,271.8 L354.1,271.8 L354.5,271.8 L354.9,271.8 L355.3,271.8 L355.7,271.8 L356.1,271.8 L356.5,271.8 L356.9,271.8 L357.3,271.8 L357.7,271.8 L358.1,271.8 L358.5,271.8 L358.9,271.8 L359.3,271.8 L359.7,271.8 L360.1,271.8 L360.5,271.8 L360.9,271.8 L361.3,271.8 L361.7,271.8 L362.1,271.8 L362.5,271.8 L362.9,271.8 L363.3,271.8 L363.7,271.8 L364.1,271.8 L364.5,271.8 L364.9,271.8 L365.3,271.8 L365.7,271.8 L366.0,271.8 L366.4,271.8 L366.8,271.8 L367.2,271.8 L367.6,271.8 L368.0,271.8 L368.4,271.8 L368.8,271.8 L369.2,271.8 L369.6,271.8 L370.0,271.8 L370.4,271.8 L370.8,271.8 L371.2,271.8 L371.6,271.8 L372.0,271.8 L372.4,271.8 L372.8,271.8 L373.2,271.8 L373.6,271.8 L374.0,271.8 L374.4,271.8 L374.8,271.8 L375.2,271.8 L375.6,271.8 L376.0,271.8 L376.4,271.8 L376.8,271.8 L377.2,271.8 L377.6,271.8 L378.0,271.8 L378.4,271.8 L378.8,271.8 L379.2,271.8 L379.6,271.8 L380.0,271.8 L380.4,271.8 L380.8,271.8 L381.2,271.8 L381.6,271.8 L382.0,271.8 L382.4,271.8 L382.8,271.8 L383.2,271.8 L383.6,271.8 L384.0,271.8 L384.4,271.8 L384.8,271.8 L385.2,271.8 L385.6,271.8 L386.0,271.8 L386.4,271.8 L386.8,271.8 L387.2,271.8 L387.6,271.8 L388.0,271.8 L388.4,271.8 L388.8,271.8 L389.2,271.8 L389.6,271.8 L390.0,271.8 L390.4,271.8 L390.8,271.8 L391.2,271.8 L391.6,271.8 L392.0,271.8 L392.4,271.8 L392.8,271.8 L393.2,271.8 L393.6,271.8 L394.0,271.8 L394.4,271.8 L394.8,271.8 L395.2,271.8 L395.6,271.8 L396.0,271.8" stroke="#000000" stroke-width="2.3"/>
<path d="M275.0,271.8 L275.4,271.8 L275.8,271.8 L276.2,271.8 L276.6,271.8 L277.0,271.8 L277.4,271.8 L277.8,271.8 L278.2,271.8 L278.6,271.8 L279.0,271.8 L279.4,271.8 L279.8,271.8 L280.2,271.8 L280.6,271.8 L281.0,271.8 L281.4,271.8 L281.8,271.8 L282.2,271.8 L282.6,271.8 L283.0,271.8 L283.4,271.8 L283.8,271.8 L284.2,271.8 L284.6,271.8 L285.0,271.8 L285.4,271.8 L285.8,271.8 L286.2,271.8 L286.6,271.8 L287.0,271.8 L287.4,271.8 L287.8,271.8 L288.2,271.8 L288.6,271.8 L289.0,271.8 L289.4,271.8 L289.8,271.8 L290.2,271.8 L290.6,271.8 L291.0,271.8 L291.4,271.8 L291.8,271.8 L292.2,271.8 L292.6,271.8 L293.0,271.8 L293.4,271.8 L293.8,271.8 L294.2,271.8 L294.6,271.8 L295.0,271.8 L295.4,271.8 L295.8,271.8 L296.2,271.8 L296.6,271.8 L297.0,271.8 L297.4,271.8 L297.8,271.8 L298.2,271.8 L298.6,271.8 L299.0,271.8 L299.4,271.8 L299.8,271.8 L300.2,271.7 L300.6,271.7 L301.0,271.6 L301.4,271.4 L301.8,271.1 L302.2,270.6 L302.6,269.7 L303.0,268.3 L303.4,266.1 L303.8,262.7 L304.2,257.8 L304.6,250.8 L305.0,241.2 L305.3,228.2 L305.7,211.5 L306.1,190.5 L306.5,165.1 L306.9,135.5 L307.3,102.2 L307.7,66.5 L308.1,29.7 L308.5,-6.0 L308.9,-38.7 L309.3,-60.0 L309.7,-60.0 L310.1,-60.0 L310.5,-60.0 L310.9,-60.0 L311.3,-60.0 L311.7,-47.3 L312.1,-16.0 L312.5,19.1 L312.9,55.7 L313.3,92.0 L313.7,126.1 L314.1,156.9 L314.5,183.5 L314.9,205.8 L315.3,223.7 L315.7,237.7 L316.1,248.3 L316.5,255.9 L316.9,261.3 L317.3,265.0 L317.7,267.4 L318.1,268.9 L318.5,269.7 L318.9,270.0 L319.3,270.0 L319.7,269.7 L320.1,269.2 L320.5,268.5 L320.9,267.6 L321.3,266.6 L321.7,265.5 L322.1,264.3 L322.5,263.1 L322.9,261.9 L323.3,260.8 L323.7,259.8 L324.1,259.0 L324.5,258.5 L324.9,258.3 L325.3,258.4 L325.7,258.8 L326.1,259.4 L326.5,260.3 L326.9,261.4 L327.3,262.6 L327.7,263.8 L328.1,265.0 L328.5,266.2 L328.9,267.3 L329.3,268.2 L329.7,269.0 L330.1,269.7 L330.5,270.2 L330.9,270.7 L331.3,271.0 L331.7,271.3 L332.1,271.4 L332.5,271.6 L332.9,271.6 L333.3,271.7 L333.7,271.7 L334.1,271.8 L334.5,271.8 L334.9,271.8 L335.3,271.8 L335.7,271.8 L336.1,271.8 L336.5,271.8 L336.9,271.8 L337.3,271.8 L337.7,271.8 L338.1,271.8 L338.5,271.8 L338.9,271.8 L339.3,271.8 L339.7,271.8 L340.1,271.8 L340.5,271.8 L340.9,271.8 L341.3,271.8 L341.7,271.8 L342.1,271.8 L342.5,271.8 L342.9,271.8 L343.3,271.8 L343.7,271.8 L344.1,271.8 L344.5,271.8 L344.9,271.8 L345.3,271.8 L345.7,271.8 L346.1,271.8 L346.5,271.8 L346.9,271.8 L347.3,271.8 L347.7,271.8 L348.1,271.8 L348.5,271.8 L348.9,271.8 L349.3,271.8 L349.7,271.8 L350.1,271.8 L350.5,271.8 L350.9,271.8 L351.3,271.8 L351.7,271.8 L352.1,271.8 L352.5,271.8 L352.9,271.8 L353.3,271.8 L353.7,271.8 L354.1,271.8 L354.5,271.8 L354.9,271.8 L355.3,271.8 L355.7,271.8 L356.1,271.8 L356.5,271.8 L356.9,271.8 L357.3,271.8 L357.7,271.8 L358.1,271.8 L358.5,271.8 L358.9,271.8 L359.3,271.8 L359.7,271.8 L360.1,271.8 L360.5,271.8 L360.9,271.8 L361.3,271.8 L361.7,271.8 L362.1,271.8 L362.5,271.8 L362.9,271.8 L363.3,271.8 L363.7,271.8 L364.1,271.8 L364.5,271.8 L364.9,271.8 L365.3,271.8 L365.7,271.8 L366.0,271.8 L366.4,271.8 L366.8,271.8 L367.2,271.8 L367.6,271.8 L368.0,271.8 L368.4,271.8 L368.8,271.8 L369.2,271.8 L369.6,271.8 L370.0,271.8 L370.4,271.8 L370.8,271.8 L371.2,271.8 L371.6,271.8 L372.0,271.8 L372.4,271.8 L372.8,271.8 L373.2,271.8 L373.6,271.8 L374.0,271.8 L374.4,271.8 L374.8,271.8 L375.2,271.8 L375.6,271.8 L376.0,271.8 L376.4,271.8 L376.8,271.8 L377.2,271.8 L377.6,271.8 L378.0,271.8 L378.4,271.8 L378.8,271.8 L379.2,271.8 L379.6,271.8 L380.0,271.8 L380.4,271.8 L380.8,271.8 L381.2,271.8 L381.6,271.8 L382.0,271.8 L382.4,271.8 L382.8,271.8 L383.2,271.8 L383.6,271.8 L384.0,271.8 L384.4,271.8 L384.8,271.8 L385.2,271.8 L385.6,271.8 L386.0,271.8 L386.4,271.8 L386.8,271.8 L387.2,271.8 L387.6,271.8 L388.0,271.8 L388.4,271.8 L388.8,271.8 L389.2,271.8 L389.6,271.8 L390.0,271.8 L390.4,271.8 L390.8,271.8 L391.2,271.8 L391.6,271.8 L392.0,271.8 L392.4,271.8 L392.8,271.8 L393.2,271.8 L393.6,271.8 L394.0,271.8 L394.4,271.8 L394.8,271.8 L395.2,271.8 L395.6,271.8 L396.0,271.8" stroke="#1414b4" stroke-width="2.3"/>
<path d="M275.0,271.8 L275.4,271.8 L275.8,271.8 L276.2,271.8 L276.6,271.8 L277.0,271.8 L277.4,271.8 L277.8,271.8 L278.2,271.8 L278.6,271.8 L279.0,271.8 L279.4,271.8 L279.8,271.8 L280.2,271.8 L280.6,271.8 L281.0,271.8 L281.4,271.8 L281.8,271.8 L282.2,271.8 L282.6,271.8 L283.0,271.8 L283.4,271.8 L283.8,271.8 L284.2,271.8 L284.6,271.8 L285.0,271.8 L285.4,271.8 L285.8,271.8 L286.2,271.8 L286.6,271.8 L287.0,271.8 L287.4,271.8 L287.8,271.8 L288.2,271.8 L288.6,271.8 L289.0,271.8 L289.4,271.8 L289.8,271.8 L290.2,271.8 L290.6,271.8 L291.0,271.8 L291.4,271.8 L291.8,271.8 L292.2,271.8 L292.6,271.8 L293.0,271.8 L293.4,271.8 L293.8,271.8 L294.2,271.8 L294.6,271.8 L295.0,271.8 L295.4,271.8 L295.8,271.8 L296.2,271.8 L296.6,271.8 L297.0,271.8 L297.4,271.8 L297.8,271.8 L298.2,271.8 L298.6,271.8 L299.0,271.8 L299.4,271.8 L299.8,271.8 L300.2,271.7 L300.6,271.7 L301.0,271.6 L301.4,271.4 L301.8,271.1 L302.2,270.6 L302.6,269.7 L303.0,268.3 L303.4,266.1 L303.8,262.7 L304.2,257.8 L304.6,250.8 L305.0,241.2 L305.3,228.2 L305.7,211.5 L306.1,190.5 L306.5,165.1 L306.9,135.5 L307.3,102.2 L307.7,66.5 L308.1,29.7 L308.5,-6.0 L308.9,-38.7 L309.3,-60.0 L309.7,-60.0 L310.1,-60.0 L310.5,-60.0 L310.9,-60.0 L311.3,-60.0 L311.7,-47.3 L312.1,-16.0 L312.5,19.1 L312.9,55.7 L313.3,92.0 L313.7,126.1 L314.1,156.8 L314.5,183.5 L314.9,205.8 L315.3,223.7 L315.7,237.7 L316.1,248.2 L316.5,255.8 L316.9,261.1 L317.3,264.7 L317.7,266.9 L318.1,268.1 L318.5,268.5 L318.9,268.3 L319.3,267.6 L319.7,266.4 L320.1,264.8 L320.5,262.8 L320.9,260.4 L321.3,257.6 L321.7,254.5 L322.1,251.2 L322.5,247.8 L322.9,244.5 L323.3,241.4 L323.7,238.7 L324.1,236.6 L324.5,235.2 L324.9,234.6 L325.3,234.9 L325.7,235.9 L326.1,237.8 L326.5,240.2 L326.9,243.1 L327.3,246.4 L327.7,249.8 L328.1,253.1 L328.5,256.3 L328.9,259.3 L329.3,261.9 L329.7,264.1 L330.1,266.0 L330.5,267.5 L330.9,268.7 L331.3,269.6 L331.7,270.2 L332.1,270.7 L332.5,271.0 L332.9,271.2 L333.3,271.3 L333.7,271.3 L334.1,271.2 L334.5,271.1 L334.9,271.0 L335.3,270.8 L335.7,270.6 L336.1,270.4 L336.5,270.2 L336.9,270.0 L337.3,269.8 L337.7,269.7 L338.1,269.6 L338.5,269.6 L338.9,269.6 L339.3,269.7 L339.7,269.8 L340.1,270.0 L340.5,270.2 L340.9,270.4 L341.3,270.6 L341.7,270.8 L342.1,271.0 L342.5,271.2 L342.9,271.3 L343.3,271.4 L343.7,271.5 L344.1,271.6 L344.5,271.7 L344.9,271.7 L345.3,271.7 L345.7,271.8 L346.1,271.8 L346.5,271.8 L346.9,271.8 L347.3,271.8 L347.7,271.8 L348.1,271.8 L348.5,271.8 L348.9,271.8 L349.3,271.8 L349.7,271.8 L350.1,271.8 L350.5,271.8 L350.9,271.8 L351.3,271.8 L351.7,271.8 L352.1,271.8 L352.5,271.8 L352.9,271.8 L353.3,271.8 L353.7,271.8 L354.1,271.8 L354.5,271.8 L354.9,271.8 L355.3,271.8 L355.7,271.8 L356.1,271.8 L356.5,271.8 L356.9,271.8 L357.3,271.8 L357.7,271.8 L358.1,271.8 L358.5,271.8 L358.9,271.8 L359.3,271.8 L359.7,271.8 L360.1,271.8 L360.5,271.8 L360.9,271.8 L361.3,271.8 L361.7,271.8 L362.1,271.8 L362.5,271.8 L362.9,271.8 L363.3,271.8 L363.7,271.8 L364.1,271.8 L364.5,271.8 L364.9,271.8 L365.3,271.8 L365.7,271.8 L366.0,271.8 L366.4,271.8 L366.8,271.8 L367.2,271.8 L367.6,271.8 L368.0,271.8 L368.4,271.8 L368.8,271.8 L369.2,271.8 L369.6,271.8 L370.0,271.8 L370.4,271.8 L370.8,271.8 L371.2,271.8 L371.6,271.8 L372.0,271.8 L372.4,271.8 L372.8,271.8 L373.2,271.8 L373.6,271.8 L374.0,271.8 L374.4,271.8 L374.8,271.8 L375.2,271.8 L375.6,271.8 L376.0,271.8 L376.4,271.8 L376.8,271.8 L377.2,271.8 L377.6,271.8 L378.0,271.8 L378.4,271.8 L378.8,271.8 L379.2,271.8 L379.6,271.8 L380.0,271.8 L380.4,271.8 L380.8,271.8 L381.2,271.8 L381.6,271.8 L382.0,271.8 L382.4,271.8 L382.8,271.8 L383.2,271.8 L383.6,271.8 L384.0,271.8 L384.4,271.8 L384.8,271.8 L385.2,271.8 L385.6,271.8 L386.0,271.8 L386.4,271.8 L386.8,271.8 L387.2,271.8 L387.6,271.8 L388.0,271.8 L388.4,271.8 L388.8,271.8 L389.2,271.8 L389.6,271.8 L390.0,271.8 L390.4,271.8 L390.8,271.8 L391.2,271.8 L391.6,271.8 L392.0,271.8 L392.4,271.8 L392.8,271.8 L393.2,271.8 L393.6,271.8 L394.0,271.8 L394.4,271.8 L394.8,271.8 L395.2,271.8 L395.6,271.8 L396.0,271.8" stroke="#f7a21b" stroke-width="2.3"/>
<path d="M275.0,271.8 L275.4,271.8 L275.8,271.8 L276.2,271.8 L276.6,271.8 L277.0,271.8 L277.4,271.8 L277.8,271.8 L278.2,271.8 L278.6,271.8 L279.0,271.8 L279.4,271.8 L279.8,271.8 L280.2,271.8 L280.6,271.8 L281.0,271.8 L281.4,271.8 L281.8,271.8 L282.2,271.8 L282.6,271.8 L283.0,271.8 L283.4,271.8 L283.8,271.8 L284.2,271.8 L284.6,271.8 L285.0,271.8 L285.4,271.8 L285.8,271.8 L286.2,271.8 L286.6,271.8 L287.0,271.8 L287.4,271.8 L287.8,271.8 L288.2,271.8 L288.6,271.8 L289.0,271.8 L289.4,271.8 L289.8,271.8 L290.2,271.8 L290.6,271.8 L291.0,271.8 L291.4,271.8 L291.8,271.8 L292.2,271.8 L292.6,271.8 L293.0,271.8 L293.4,271.8 L293.8,271.8 L294.2,271.8 L294.6,271.8 L295.0,271.8 L295.4,271.8 L295.8,271.8 L296.2,271.8 L296.6,271.8 L297.0,271.8 L297.4,271.8 L297.8,271.8 L298.2,271.8 L298.6,271.8 L299.0,271.8 L299.4,271.8 L299.8,271.8 L300.2,271.7 L300.6,271.7 L301.0,271.6 L301.4,271.4 L301.8,271.1 L302.2,270.6 L302.6,269.7 L303.0,268.3 L303.4,266.1 L303.8,262.7 L304.2,257.8 L304.6,250.8 L305.0,241.2 L305.3,228.2 L305.7,211.5 L306.1,190.5 L306.5,165.1 L306.9,135.5 L307.3,102.2 L307.7,66.5 L308.1,29.7 L308.5,-6.0 L308.9,-38.7 L309.3,-60.0 L309.7,-60.0 L310.1,-60.0 L310.5,-60.0 L310.9,-60.0 L311.3,-60.0 L311.7,-47.3 L312.1,-16.0 L312.5,19.1 L312.9,55.7 L313.3,92.0 L313.7,126.1 L314.1,156.8 L314.5,183.5 L314.9,205.7 L315.3,223.7 L315.7,237.6 L316.1,248.0 L316.5,255.6 L316.9,260.7 L317.3,264.1 L317.7,265.9 L318.1,266.7 L318.5,266.5 L318.9,265.4 L319.3,263.6 L319.7,260.9 L320.1,257.5 L320.5,253.3 L320.9,248.2 L321.3,242.4 L321.7,236.0 L322.1,229.2 L322.5,222.1 L322.9,215.3 L323.3,208.9 L323.7,203.4 L324.1,199.0 L324.5,196.2 L324.9,194.9 L325.3,195.4 L325.7,197.7 L326.1,201.4 L326.5,206.5 L326.9,212.6 L327.3,219.3 L327.7,226.3 L328.1,233.2 L328.5,239.8 L328.9,245.9 L329.3,251.3 L329.7,255.9 L330.1,259.8 L330.5,262.9 L330.9,265.4 L331.3,267.2 L331.7,268.6 L332.1,269.5 L332.5,270.2 L332.9,270.6 L333.3,270.8 L333.7,270.8 L334.1,270.8 L334.5,270.6 L334.9,270.3 L335.3,270.0 L335.7,269.7 L336.1,269.3 L336.5,269.0 L336.9,268.6 L337.3,268.3 L337.7,268.1 L338.1,268.0 L338.5,267.9 L338.9,267.9 L339.3,268.1 L339.7,268.3 L340.1,268.6 L340.5,269.0 L340.9,269.3 L341.3,269.7 L341.7,270.1 L342.1,270.4 L342.5,270.7 L342.9,271.0 L343.3,271.2 L343.7,271.3 L344.1,271.5 L344.5,271.6 L344.9,271.7 L345.3,271.7 L345.7,271.7 L346.1,271.8 L346.5,271.8 L346.9,271.8 L347.3,271.8 L347.7,271.8 L348.1,271.8 L348.5,271.8 L348.9,271.8 L349.3,271.8 L349.7,271.8 L350.1,271.8 L350.5,271.8 L350.9,271.8 L351.3,271.8 L351.7,271.8 L352.1,271.8 L352.5,271.8 L352.9,271.8 L353.3,271.8 L353.7,271.8 L354.1,271.8 L354.5,271.8 L354.9,271.8 L355.3,271.8 L355.7,271.8 L356.1,271.8 L356.5,271.8 L356.9,271.8 L357.3,271.8 L357.7,271.7 L358.1,271.7 L358.5,271.6 L358.9,271.4 L359.3,271.2 L359.7,271.0 L360.1,270.6 L360.5,270.2 L360.9,269.6 L361.3,269.0 L361.7,268.4 L362.1,267.8 L362.5,267.3 L362.9,266.9 L363.3,266.6 L363.7,266.6 L364.1,266.8 L364.5,267.2 L364.9,267.7 L365.3,268.3 L365.7,268.9 L366.0,269.5 L366.4,270.0 L366.8,270.5 L367.2,270.9 L367.6,271.2 L368.0,271.4 L368.4,271.6 L368.8,271.7 L369.2,271.7 L369.6,271.8 L370.0,271.8 L370.4,271.8 L370.8,271.8 L371.2,271.8 L371.6,271.8 L372.0,271.8 L372.4,271.8 L372.8,271.8 L373.2,271.8 L373.6,271.8 L374.0,271.8 L374.4,271.8 L374.8,271.8 L375.2,271.8 L375.6,271.8 L376.0,271.8 L376.4,271.8 L376.8,271.8 L377.2,271.8 L377.6,271.8 L378.0,271.8 L378.4,271.8 L378.8,271.8 L379.2,271.8 L379.6,271.8 L380.0,271.8 L380.4,271.8 L380.8,271.8 L381.2,271.8 L381.6,271.8 L382.0,271.8 L382.4,271.8 L382.8,271.8 L383.2,271.8 L383.6,271.8 L384.0,271.8 L384.4,271.8 L384.8,271.8 L385.2,271.8 L385.6,271.8 L386.0,271.8 L386.4,271.8 L386.8,271.8 L387.2,271.8 L387.6,271.8 L388.0,271.8 L388.4,271.8 L388.8,271.8 L389.2,271.8 L389.6,271.8 L390.0,271.8 L390.4,271.8 L390.8,271.8 L391.2,271.8 L391.6,271.8 L392.0,271.8 L392.4,271.8 L392.8,271.8 L393.2,271.8 L393.6,271.8 L394.0,271.8 L394.4,271.8 L394.8,271.8 L395.2,271.8 L395.6,271.8 L396.0,271.8" stroke="#de1618" stroke-width="2.3"/>
</g>
<g clip-path="url(#c30)" fill="none" stroke-linejoin="round" stroke-linecap="round">
<path d="M401.0,143.8 L401.4,143.8 L401.8,143.9 L402.2,143.9 L402.6,143.9 L403.0,143.9 L403.4,144.0 L403.8,144.0 L404.2,144.0 L404.6,144.1 L405.0,144.1 L405.4,144.1 L405.8,144.1 L406.2,144.2 L406.6,144.2 L407.0,144.2 L407.4,144.3 L407.8,144.3 L408.2,144.3 L408.6,144.3 L409.0,144.4 L409.4,144.4 L409.8,144.4 L410.2,144.4 L410.6,144.5 L411.0,144.5 L411.4,144.5 L411.8,144.6 L412.2,144.6 L412.6,144.6 L413.0,144.6 L413.4,144.7 L413.8,144.7 L414.2,144.7 L414.6,144.8 L415.0,144.8 L415.4,144.8 L415.8,144.8 L416.1,144.9 L416.5,144.9 L416.9,144.9 L417.3,145.0 L417.7,145.0 L418.1,145.0 L418.5,145.0 L418.9,145.1 L419.3,145.1 L419.7,145.1 L420.1,145.2 L420.5,145.2 L420.9,145.2 L421.3,145.2 L421.7,145.3 L422.1,145.3 L422.5,145.3 L422.9,145.3 L423.3,145.4 L423.7,145.4 L424.1,145.4 L424.5,145.3 L424.9,145.2 L425.3,145.0 L425.7,144.5 L426.1,143.8 L426.5,142.7 L426.9,141.0 L427.3,138.4 L427.7,134.7 L428.1,129.3 L428.5,121.7 L428.9,111.3 L429.3,97.6 L429.7,80.0 L430.1,58.1 L430.5,31.7 L430.9,1.3 L431.3,-32.7 L431.7,-60.0 L432.1,-60.0 L432.5,-60.0 L432.9,-60.0 L433.3,-60.0 L433.7,-60.0 L434.1,-60.0 L434.5,-60.0 L434.9,-60.0 L435.3,-60.0 L435.7,-60.0 L436.1,-60.0 L436.5,-60.0 L436.9,-60.0 L437.3,-38.0 L437.7,-4.3 L438.1,25.9 L438.5,52.1 L438.9,73.9 L439.3,91.4 L439.7,105.0 L440.1,115.2 L440.5,122.6 L440.9,127.8 L441.3,131.2 L441.7,133.4 L442.1,134.6 L442.5,135.4 L442.9,135.6 L443.3,135.5 L443.7,135.0 L444.1,134.2 L444.5,133.0 L444.9,131.5 L445.2,129.7 L445.6,127.4 L446.0,124.9 L446.4,122.1 L446.8,119.0 L447.2,115.9 L447.6,112.9 L448.0,110.1 L448.4,107.7 L448.8,105.9 L449.2,104.9 L449.6,104.8 L450.0,105.4 L450.4,106.9 L450.8,108.9 L451.2,111.5 L451.6,114.5 L452.0,117.7 L452.4,121.0 L452.8,124.2 L453.2,127.1 L453.6,129.8 L454.0,132.1 L454.4,134.1 L454.8,135.7 L455.2,137.0 L455.6,138.1 L456.0,138.9 L456.4,139.5 L456.8,140.0 L457.2,140.4 L457.6,140.7 L458.0,140.8 L458.4,140.8 L458.8,140.9 L459.2,140.8 L459.6,140.7 L460.0,140.6 L460.4,140.4 L460.8,140.1 L461.2,139.8 L461.6,139.4 L462.0,138.9 L462.4,138.4 L462.8,137.9 L463.2,137.3 L463.6,136.7 L464.0,136.2 L464.4,135.7 L464.8,135.3 L465.2,135.1 L465.6,135.0 L466.0,135.0 L466.4,135.2 L466.8,135.5 L467.2,136.0 L467.6,136.5 L468.0,137.2 L468.4,137.8 L468.8,138.5 L469.2,139.2 L469.6,139.8 L470.0,140.3 L470.4,140.8 L470.8,141.3 L471.2,141.6 L471.6,141.9 L472.0,142.2 L472.4,142.4 L472.8,142.5 L473.2,142.7 L473.6,142.8 L474.0,142.8 L474.4,142.9 L474.8,143.0 L475.1,143.0 L475.5,143.1 L475.9,143.1 L476.3,143.1 L476.7,143.1 L477.1,143.1 L477.5,143.1 L477.9,143.0 L478.3,143.0 L478.7,142.9 L479.1,142.9 L479.5,142.8 L479.9,142.8 L480.3,142.8 L480.7,142.7 L481.1,142.8 L481.5,142.8 L481.9,142.9 L482.3,142.9 L482.7,143.0 L483.1,143.2 L483.5,143.3 L483.9,143.4 L484.3,143.6 L484.7,143.7 L485.1,143.9 L485.5,144.0 L485.9,144.1 L486.3,144.2 L486.7,144.3 L487.1,144.3 L487.5,144.4 L487.9,144.4 L488.3,144.5 L488.7,144.5 L489.1,144.5 L489.5,144.5 L489.9,144.5 L490.3,144.5 L490.7,144.5 L491.1,144.5 L491.5,144.5 L491.9,144.5 L492.3,144.5 L492.7,144.5 L493.1,144.5 L493.5,144.5 L493.9,144.5 L494.3,144.5 L494.7,144.5 L495.1,144.5 L495.5,144.5 L495.9,144.5 L496.3,144.5 L496.7,144.5 L497.1,144.5 L497.5,144.5 L497.9,144.5 L498.3,144.5 L498.7,144.5 L499.1,144.5 L499.5,144.5 L499.9,144.5 L500.3,144.5 L500.7,144.5 L501.1,144.5 L501.5,144.5 L501.9,144.5 L502.3,144.5 L502.7,144.5 L503.1,144.5 L503.5,144.5 L503.9,144.5 L504.2,144.5 L504.6,144.5 L505.0,144.5 L505.4,144.5 L505.8,144.5 L506.2,144.5 L506.6,144.5 L507.0,144.5 L507.4,144.5 L507.8,144.5 L508.2,144.5 L508.6,144.5 L509.0,144.5 L509.4,144.5 L509.8,144.5 L510.2,144.5 L510.6,144.5 L511.0,144.5 L511.4,144.5 L511.8,144.5 L512.2,144.5 L512.6,144.5 L513.0,144.5 L513.4,144.5 L513.8,144.5 L514.2,144.5 L514.6,144.5 L515.0,144.5 L515.4,144.5 L515.8,144.5 L516.2,144.5 L516.6,144.5 L517.0,144.5 L517.4,144.5 L517.8,144.5 L518.2,144.5 L518.6,144.5 L519.0,144.5" stroke="#000000" stroke-width="2.3"/>
<path d="M401.0,143.3 L401.4,143.3 L401.8,143.4 L402.2,143.4 L402.6,143.4 L403.0,143.4 L403.4,143.5 L403.8,143.5 L404.2,143.5 L404.6,143.6 L405.0,143.6 L405.4,143.6 L405.8,143.6 L406.2,143.7 L406.6,143.7 L407.0,143.7 L407.4,143.8 L407.8,143.8 L408.2,143.8 L408.6,143.8 L409.0,143.9 L409.4,143.9 L409.8,143.9 L410.2,143.9 L410.6,144.0 L411.0,144.0 L411.4,144.0 L411.8,144.1 L412.2,144.1 L412.6,144.1 L413.0,144.1 L413.4,144.2 L413.8,144.2 L414.2,144.2 L414.6,144.3 L415.0,144.3 L415.4,144.3 L415.8,144.3 L416.1,144.4 L416.5,144.4 L416.9,144.4 L417.3,144.5 L417.7,144.5 L418.1,144.5 L418.5,144.5 L418.9,144.6 L419.3,144.6 L419.7,144.6 L420.1,144.7 L420.5,144.7 L420.9,144.7 L421.3,144.7 L421.7,144.8 L422.1,144.8 L422.5,144.8 L422.9,144.8 L423.3,144.9 L423.7,144.9 L424.1,144.9 L424.5,144.8 L424.9,144.7 L425.3,144.4 L425.7,143.9 L426.1,143.1 L426.5,142.0 L426.9,140.3 L427.3,137.7 L427.7,133.9 L428.1,128.5 L428.5,120.8 L428.9,110.4 L429.3,96.6 L429.7,79.0 L430.1,57.0 L430.5,30.6 L430.9,0.1 L431.3,-33.9 L431.7,-60.0 L432.1,-60.0 L432.5,-60.0 L432.9,-60.0 L433.3,-60.0 L433.7,-60.0 L434.1,-60.0 L434.5,-60.0 L434.9,-60.0 L435.3,-60.0 L435.7,-60.0 L436.1,-60.0 L436.5,-60.0 L436.9,-60.0 L437.3,-40.0 L437.7,-6.3 L438.1,23.9 L438.5,50.1 L438.9,71.9 L439.3,89.4 L439.7,103.0 L440.1,113.2 L440.5,120.6 L440.9,125.7 L441.3,129.2 L441.7,131.3 L442.1,132.5 L442.5,133.1 L442.9,133.2 L443.3,132.9 L443.7,132.1 L444.1,130.9 L444.5,129.3 L444.9,127.3 L445.2,124.7 L445.6,121.7 L446.0,118.2 L446.4,114.4 L446.8,110.3 L447.2,106.0 L447.6,101.9 L448.0,98.1 L448.4,94.9 L448.8,92.4 L449.2,91.1 L449.6,90.8 L450.0,91.7 L450.4,93.5 L450.8,96.3 L451.2,99.8 L451.6,103.8 L452.0,108.1 L452.4,112.5 L452.8,116.7 L453.2,120.7 L453.6,124.2 L454.0,127.3 L454.4,130.0 L454.8,132.1 L455.2,133.9 L455.6,135.2 L456.0,136.3 L456.4,137.1 L456.8,137.7 L457.2,138.2 L457.6,138.6 L458.0,138.7 L458.4,138.8 L458.8,138.8 L459.2,138.7 L459.6,138.6 L460.0,138.3 L460.4,138.0 L460.8,137.6 L461.2,137.1 L461.6,136.5 L462.0,135.8 L462.4,135.0 L462.8,134.1 L463.2,133.2 L463.6,132.3 L464.0,131.5 L464.4,130.8 L464.8,130.2 L465.2,129.8 L465.6,129.7 L466.0,129.7 L466.4,130.0 L466.8,130.4 L467.2,131.1 L467.6,131.9 L468.0,132.8 L468.4,133.8 L468.8,134.8 L469.2,135.7 L469.6,136.6 L470.0,137.4 L470.4,138.2 L470.8,138.8 L471.2,139.3 L471.6,139.7 L472.0,140.0 L472.4,140.3 L472.8,140.5 L473.2,140.6 L473.6,140.8 L474.0,140.8 L474.4,140.9 L474.8,141.0 L475.1,141.1 L475.5,141.2 L475.9,141.2 L476.3,141.3 L476.7,141.3 L477.1,141.3 L477.5,141.3 L477.9,141.3 L478.3,141.3 L478.7,141.2 L479.1,141.2 L479.5,141.1 L479.9,141.1 L480.3,141.0 L480.7,141.1 L481.1,141.1 L481.5,141.2 L481.9,141.3 L482.3,141.4 L482.7,141.5 L483.1,141.7 L483.5,141.9 L483.9,142.1 L484.3,142.3 L484.7,142.5 L485.1,142.6 L485.5,142.8 L485.9,143.0 L486.3,143.1 L486.7,143.2 L487.1,143.3 L487.5,143.4 L487.9,143.4 L488.3,143.5 L488.7,143.5 L489.1,143.5 L489.5,143.5 L489.9,143.5 L490.3,143.5 L490.7,143.5 L491.1,143.5 L491.5,143.5 L491.9,143.5 L492.3,143.5 L492.7,143.5 L493.1,143.5 L493.5,143.5 L493.9,143.5 L494.3,143.5 L494.7,143.5 L495.1,143.5 L495.5,143.5 L495.9,143.5 L496.3,143.5 L496.7,143.5 L497.1,143.5 L497.5,143.5 L497.9,143.5 L498.3,143.5 L498.7,143.5 L499.1,143.5 L499.5,143.5 L499.9,143.5 L500.3,143.5 L500.7,143.5 L501.1,143.5 L501.5,143.5 L501.9,143.5 L502.3,143.5 L502.7,143.5 L503.1,143.5 L503.5,143.5 L503.9,143.5 L504.2,143.5 L504.6,143.5 L505.0,143.5 L505.4,143.5 L505.8,143.5 L506.2,143.5 L506.6,143.5 L507.0,143.5 L507.4,143.5 L507.8,143.5 L508.2,143.5 L508.6,143.5 L509.0,143.5 L509.4,143.5 L509.8,143.5 L510.2,143.5 L510.6,143.5 L511.0,143.5 L511.4,143.5 L511.8,143.5 L512.2,143.5 L512.6,143.5 L513.0,143.5 L513.4,143.5 L513.8,143.5 L514.2,143.5 L514.6,143.5 L515.0,143.5 L515.4,143.5 L515.8,143.5 L516.2,143.5 L516.6,143.5 L517.0,143.5 L517.4,143.5 L517.8,143.5 L518.2,143.5 L518.6,143.5 L519.0,143.5" stroke="#1414b4" stroke-width="2.3"/>
<path d="M401.0,142.8 L401.4,142.8 L401.8,142.8 L402.2,142.8 L402.6,142.9 L403.0,142.9 L403.4,142.9 L403.8,142.9 L404.2,142.9 L404.6,142.9 L405.0,142.9 L405.4,143.0 L405.8,143.0 L406.2,143.0 L406.6,143.0 L407.0,143.0 L407.4,143.0 L407.8,143.0 L408.2,143.1 L408.6,143.1 L409.0,143.1 L409.4,143.1 L409.8,143.1 L410.2,143.1 L410.6,143.2 L411.0,143.2 L411.4,143.2 L411.8,143.2 L412.2,143.2 L412.6,143.2 L413.0,143.2 L413.4,143.3 L413.8,143.3 L414.2,143.3 L414.6,143.3 L415.0,143.3 L415.4,143.3 L415.8,143.3 L416.1,143.4 L416.5,143.4 L416.9,143.4 L417.3,143.4 L417.7,143.4 L418.1,143.4 L418.5,143.4 L418.9,143.5 L419.3,143.5 L419.7,143.5 L420.1,143.5 L420.5,143.6 L420.9,143.6 L421.3,143.7 L421.7,143.7 L422.1,143.8 L422.5,143.9 L422.9,143.9 L423.3,143.9 L423.7,144.0 L424.1,144.0 L424.5,144.0 L424.9,143.9 L425.3,143.6 L425.7,143.1 L426.1,142.3 L426.5,141.1 L426.9,139.4 L427.3,136.8 L427.7,133.0 L428.1,127.5 L428.5,119.9 L428.9,109.5 L429.3,95.7 L429.7,78.0 L430.1,56.0 L430.5,29.6 L430.9,-1.0 L431.3,-35.1 L431.7,-60.0 L432.1,-60.0 L432.5,-60.0 L432.9,-60.0 L433.3,-60.0 L433.7,-60.0 L434.1,-60.0 L434.5,-60.0 L434.9,-60.0 L435.3,-60.0 L435.7,-60.0 L436.1,-60.0 L436.5,-60.0 L436.9,-60.0 L437.3,-42.6 L437.7,-9.0 L438.1,21.1 L438.5,47.1 L438.9,68.7 L439.3,86.1 L439.7,99.5 L440.1,109.5 L440.5,116.7 L440.9,121.7 L441.3,124.9 L441.7,126.9 L442.1,127.9 L442.5,128.6 L442.9,128.7 L443.3,128.3 L443.7,127.5 L444.1,126.3 L444.5,124.6 L444.9,122.5 L445.2,119.9 L445.6,116.8 L446.0,113.2 L446.4,109.2 L446.8,104.9 L447.2,100.6 L447.6,96.3 L448.0,92.4 L448.4,89.1 L448.8,86.5 L449.2,85.2 L449.6,85.0 L450.0,86.0 L450.4,88.0 L450.8,91.0 L451.2,94.7 L451.6,99.0 L452.0,103.5 L452.4,108.2 L452.8,112.7 L453.2,116.9 L453.6,120.6 L454.0,124.0 L454.4,126.8 L454.8,129.1 L455.2,131.0 L455.6,132.6 L456.0,133.8 L456.4,134.7 L456.8,135.5 L457.2,136.1 L457.6,136.5 L458.0,136.7 L458.4,136.7 L458.8,136.7 L459.2,136.6 L459.6,136.4 L460.0,136.1 L460.4,135.7 L460.8,135.1 L461.2,134.4 L461.6,133.6 L462.0,132.6 L462.4,131.6 L462.8,130.4 L463.2,129.2 L463.6,128.0 L464.0,126.9 L464.4,125.9 L464.8,125.1 L465.2,124.6 L465.6,124.3 L466.0,124.4 L466.4,124.7 L466.8,125.3 L467.2,126.1 L467.6,127.1 L468.0,128.3 L468.4,129.6 L468.8,130.9 L469.2,132.1 L469.6,133.3 L470.0,134.3 L470.4,135.2 L470.8,136.0 L471.2,136.7 L471.6,137.2 L472.0,137.6 L472.4,137.9 L472.8,138.1 L473.2,138.2 L473.6,138.3 L474.0,138.4 L474.4,138.4 L474.8,138.4 L475.1,138.5 L475.5,138.6 L475.9,138.6 L476.3,138.6 L476.7,138.6 L477.1,138.6 L477.5,138.5 L477.9,138.3 L478.3,138.2 L478.7,138.0 L479.1,137.8 L479.5,137.7 L479.9,137.5 L480.3,137.4 L480.7,137.3 L481.1,137.3 L481.5,137.4 L481.9,137.5 L482.3,137.8 L482.7,138.0 L483.1,138.4 L483.5,138.7 L483.9,139.1 L484.3,139.5 L484.7,139.9 L485.1,140.2 L485.5,140.6 L485.9,140.9 L486.3,141.1 L486.7,141.3 L487.1,141.5 L487.5,141.7 L487.9,141.9 L488.3,141.9 L488.7,142.0 L489.1,142.0 L489.5,142.0 L489.9,142.1 L490.3,142.1 L490.7,142.1 L491.1,142.1 L491.5,142.1 L491.9,142.2 L492.3,142.2 L492.7,142.2 L493.1,142.2 L493.5,142.2 L493.9,142.2 L494.3,142.3 L494.7,142.3 L495.1,142.3 L495.5,142.3 L495.9,142.3 L496.3,142.3 L496.7,142.4 L497.1,142.4 L497.5,142.4 L497.9,142.4 L498.3,142.4 L498.7,142.4 L499.1,142.5 L499.5,142.5 L499.9,142.5 L500.3,142.5 L500.7,142.5 L501.1,142.5 L501.5,142.5 L501.9,142.5 L502.3,142.5 L502.7,142.5 L503.1,142.5 L503.5,142.5 L503.9,142.5 L504.2,142.5 L504.6,142.5 L505.0,142.5 L505.4,142.5 L505.8,142.5 L506.2,142.5 L506.6,142.5 L507.0,142.5 L507.4,142.5 L507.8,142.5 L508.2,142.5 L508.6,142.5 L509.0,142.5 L509.4,142.5 L509.8,142.5 L510.2,142.5 L510.6,142.5 L511.0,142.5 L511.4,142.5 L511.8,142.5 L512.2,142.5 L512.6,142.5 L513.0,142.5 L513.4,142.5 L513.8,142.5 L514.2,142.5 L514.6,142.5 L515.0,142.5 L515.4,142.5 L515.8,142.5 L516.2,142.5 L516.6,142.5 L517.0,142.5 L517.4,142.5 L517.8,142.5 L518.2,142.5 L518.6,142.5 L519.0,142.5" stroke="#f7a21b" stroke-width="2.3"/>
<path d="M401.0,142.2 L401.4,142.2 L401.8,142.1 L402.2,142.1 L402.6,142.0 L403.0,142.0 L403.4,142.0 L403.8,141.9 L404.2,141.9 L404.6,141.8 L405.0,141.8 L405.4,141.8 L405.8,141.8 L406.2,141.7 L406.6,141.7 L407.0,141.7 L407.4,141.7 L407.8,141.6 L408.2,141.6 L408.6,141.6 L409.0,141.6 L409.4,141.5 L409.8,141.5 L410.2,141.5 L410.6,141.5 L411.0,141.5 L411.4,141.5 L411.8,141.5 L412.2,141.6 L412.6,141.6 L413.0,141.6 L413.4,141.6 L413.8,141.6 L414.2,141.6 L414.6,141.7 L415.0,141.7 L415.4,141.7 L415.8,141.8 L416.1,141.8 L416.5,141.9 L416.9,141.9 L417.3,141.9 L417.7,142.0 L418.1,142.1 L418.5,142.3 L418.9,142.5 L419.3,142.7 L419.7,142.9 L420.1,143.1 L420.5,143.2 L420.9,143.4 L421.3,143.6 L421.7,143.7 L422.1,143.9 L422.5,144.1 L422.9,144.3 L423.3,144.2 L423.7,144.0 L424.1,143.8 L424.5,143.6 L424.9,143.3 L425.3,142.9 L425.7,142.3 L426.1,141.5 L426.5,140.4 L426.9,138.6 L427.3,136.0 L427.7,132.1 L428.1,126.6 L428.5,119.0 L428.9,108.5 L429.3,94.7 L429.7,77.0 L430.1,55.0 L430.5,28.5 L430.9,-2.2 L431.3,-36.3 L431.7,-60.0 L432.1,-60.0 L432.5,-60.0 L432.9,-60.0 L433.3,-60.0 L433.7,-60.0 L434.1,-60.0 L434.5,-60.0 L434.9,-60.0 L435.3,-60.0 L435.7,-60.0 L436.1,-60.0 L436.5,-60.0 L436.9,-60.0 L437.3,-45.0 L437.7,-11.6 L438.1,18.4 L438.5,44.3 L438.9,65.8 L439.3,83.0 L439.7,96.3 L440.1,106.2 L440.5,113.2 L440.9,118.0 L441.3,121.1 L441.7,122.9 L442.1,123.7 L442.5,124.2 L442.9,124.2 L443.3,123.5 L443.7,122.4 L444.1,120.7 L444.5,118.5 L444.9,115.6 L445.2,112.0 L445.6,107.8 L446.0,102.9 L446.4,97.5 L446.8,91.7 L447.2,85.8 L447.6,80.0 L448.0,74.7 L448.4,70.2 L448.8,66.7 L449.2,64.8 L449.6,64.6 L450.0,65.9 L450.4,68.5 L450.8,72.5 L451.2,77.5 L451.6,83.3 L452.0,89.4 L452.4,95.6 L452.8,101.7 L453.2,107.3 L453.6,112.4 L454.0,116.9 L454.4,120.6 L454.8,123.8 L455.2,126.3 L455.6,128.3 L456.0,129.9 L456.4,131.1 L456.8,132.0 L457.2,132.8 L457.6,133.3 L458.0,133.5 L458.4,133.5 L458.8,133.4 L459.2,133.2 L459.6,132.8 L460.0,132.3 L460.4,131.5 L460.8,130.6 L461.2,129.5 L461.6,128.1 L462.0,126.5 L462.4,124.8 L462.8,122.9 L463.2,120.9 L463.6,119.0 L464.0,117.2 L464.4,115.6 L464.8,114.3 L465.2,113.4 L465.6,113.0 L466.0,113.0 L466.4,113.5 L466.8,114.4 L467.2,115.7 L467.6,117.3 L468.0,119.1 L468.4,121.1 L468.8,123.1 L469.2,125.1 L469.6,126.9 L470.0,128.5 L470.4,130.0 L470.8,131.2 L471.2,132.2 L471.6,133.0 L472.0,133.6 L472.4,134.0 L472.8,134.4 L473.2,134.6 L473.6,134.7 L474.0,134.8 L474.4,134.8 L474.8,134.8 L475.1,135.0 L475.5,135.1 L475.9,135.1 L476.3,135.1 L476.7,135.0 L477.1,134.9 L477.5,134.7 L477.9,134.5 L478.3,134.2 L478.7,133.8 L479.1,133.5 L479.5,133.1 L479.9,132.8 L480.3,132.6 L480.7,132.4 L481.1,132.4 L481.5,132.5 L481.9,132.7 L482.3,133.1 L482.7,133.6 L483.1,134.2 L483.5,134.8 L483.9,135.5 L484.3,136.2 L484.7,136.8 L485.1,137.5 L485.5,138.0 L485.9,138.5 L486.3,139.0 L486.7,139.4 L487.1,139.7 L487.5,140.0 L487.9,140.3 L488.3,140.4 L488.7,140.6 L489.1,140.7 L489.5,140.8 L489.9,140.9 L490.3,141.0 L490.7,141.0 L491.1,141.1 L491.5,141.1 L491.9,141.2 L492.3,141.1 L492.7,141.0 L493.1,140.9 L493.5,140.8 L493.9,140.6 L494.3,140.5 L494.7,140.5 L495.1,140.5 L495.5,140.6 L495.9,140.7 L496.3,140.9 L496.7,141.1 L497.1,141.3 L497.5,141.5 L497.9,141.6 L498.3,141.7 L498.7,141.8 L499.1,141.8 L499.5,141.8 L499.9,141.8 L500.3,141.9 L500.7,142.0 L501.1,142.1 L501.5,142.2 L501.9,142.2 L502.3,142.3 L502.7,142.4 L503.1,142.5 L503.5,142.6 L503.9,142.7 L504.2,142.8 L504.6,142.9 L505.0,143.0 L505.4,143.0 L505.8,142.9 L506.2,142.9 L506.6,142.8 L507.0,142.8 L507.4,142.8 L507.8,142.7 L508.2,142.7 L508.6,142.6 L509.0,142.6 L509.4,142.6 L509.8,142.5 L510.2,142.5 L510.6,142.4 L511.0,142.4 L511.4,142.4 L511.8,142.3 L512.2,142.3 L512.6,142.2 L513.0,142.2 L513.4,142.2 L513.8,142.1 L514.2,142.1 L514.6,142.0 L515.0,142.0 L515.4,141.8 L515.8,141.7 L516.2,141.5 L516.6,141.4 L517.0,141.2 L517.4,141.1 L517.8,140.9 L518.2,140.8 L518.6,140.6 L519.0,140.5" stroke="#de1618" stroke-width="2.3"/>
</g>
<g clip-path="url(#c31)" fill="none" stroke-linejoin="round" stroke-linecap="round">
<path d="M399.0,271.8 L399.4,271.8 L399.8,271.8 L400.2,271.8 L400.6,271.8 L401.0,271.8 L401.4,271.8 L401.8,271.8 L402.2,271.8 L402.6,271.8 L403.0,271.8 L403.4,271.8 L403.8,271.8 L404.2,271.8 L404.6,271.8 L405.0,271.8 L405.4,271.8 L405.8,271.8 L406.2,271.8 L406.6,271.8 L407.0,271.8 L407.4,271.8 L407.8,271.8 L408.2,271.8 L408.6,271.8 L409.0,271.8 L409.4,271.8 L409.8,271.8 L410.2,271.8 L410.6,271.8 L411.0,271.8 L411.4,271.8 L411.8,271.8 L412.2,271.8 L412.6,271.8 L413.0,271.8 L413.4,271.8 L413.8,271.8 L414.2,271.8 L414.6,271.8 L415.0,271.8 L415.4,271.8 L415.8,271.8 L416.2,271.8 L416.6,271.8 L417.0,271.8 L417.4,271.8 L417.8,271.8 L418.2,271.8 L418.6,271.8 L419.0,271.8 L419.4,271.8 L419.8,271.8 L420.2,271.8 L420.6,271.8 L421.0,271.8 L421.4,271.8 L421.8,271.8 L422.2,271.8 L422.6,271.8 L423.0,271.8 L423.4,271.8 L423.8,271.8 L424.2,271.8 L424.6,271.7 L425.0,271.7 L425.4,271.5 L425.8,271.3 L426.2,271.0 L426.6,270.4 L427.0,269.4 L427.4,267.9 L427.8,265.6 L428.2,262.1 L428.6,257.0 L429.0,249.9 L429.3,240.2 L429.7,227.4 L430.1,210.8 L430.5,190.3 L430.9,165.5 L431.3,136.7 L431.7,104.4 L432.1,69.6 L432.5,33.8 L432.9,-1.4 L433.3,-33.8 L433.7,-60.0 L434.1,-60.0 L434.5,-60.0 L434.9,-60.0 L435.3,-60.0 L435.7,-60.0 L436.1,-56.3 L436.5,-27.5 L436.9,5.6 L437.3,41.1 L437.7,76.8 L438.1,111.2 L438.5,142.9 L438.9,170.9 L439.3,194.8 L439.7,214.5 L440.1,230.3 L440.5,242.4 L440.9,251.6 L441.3,258.2 L441.7,262.9 L442.1,266.1 L442.5,268.2 L442.9,269.5 L443.3,270.4 L443.7,270.9 L444.1,271.1 L444.5,271.2 L444.9,271.2 L445.3,271.1 L445.7,270.9 L446.1,270.8 L446.5,270.6 L446.9,270.4 L447.3,270.2 L447.7,270.0 L448.1,269.9 L448.5,269.7 L448.9,269.7 L449.3,269.6 L449.7,269.6 L450.1,269.7 L450.5,269.8 L450.9,269.9 L451.3,270.0 L451.7,270.2 L452.1,270.4 L452.5,270.6 L452.9,270.8 L453.3,271.0 L453.7,271.2 L454.1,271.3 L454.5,271.4 L454.9,271.5 L455.3,271.6 L455.7,271.6 L456.1,271.7 L456.5,271.7 L456.9,271.8 L457.3,271.8 L457.7,271.8 L458.1,271.8 L458.5,271.8 L458.9,271.8 L459.3,271.8 L459.7,271.8 L460.1,271.8 L460.5,271.8 L460.9,271.8 L461.3,271.8 L461.7,271.8 L462.1,271.8 L462.5,271.8 L462.9,271.8 L463.3,271.8 L463.7,271.8 L464.1,271.8 L464.5,271.8 L464.9,271.8 L465.3,271.8 L465.7,271.8 L466.1,271.8 L466.5,271.8 L466.9,271.8 L467.3,271.8 L467.7,271.8 L468.1,271.8 L468.5,271.8 L468.9,271.8 L469.3,271.8 L469.7,271.8 L470.1,271.8 L470.5,271.8 L470.9,271.8 L471.3,271.8 L471.7,271.8 L472.1,271.8 L472.5,271.8 L472.9,271.8 L473.3,271.8 L473.7,271.8 L474.1,271.8 L474.5,271.8 L474.9,271.8 L475.3,271.8 L475.7,271.8 L476.1,271.8 L476.5,271.8 L476.9,271.8 L477.3,271.8 L477.7,271.8 L478.1,271.8 L478.5,271.8 L478.9,271.8 L479.3,271.8 L479.7,271.8 L480.1,271.8 L480.5,271.8 L480.9,271.8 L481.3,271.8 L481.7,271.8 L482.1,271.8 L482.5,271.8 L482.9,271.8 L483.3,271.8 L483.7,271.8 L484.1,271.8 L484.5,271.8 L484.9,271.8 L485.3,271.8 L485.7,271.8 L486.1,271.8 L486.5,271.8 L486.9,271.8 L487.3,271.8 L487.7,271.8 L488.1,271.8 L488.5,271.8 L488.9,271.8 L489.3,271.8 L489.7,271.8 L490.0,271.8 L490.4,271.8 L490.8,271.8 L491.2,271.8 L491.6,271.8 L492.0,271.8 L492.4,271.8 L492.8,271.8 L493.2,271.8 L493.6,271.8 L494.0,271.8 L494.4,271.8 L494.8,271.8 L495.2,271.8 L495.6,271.8 L496.0,271.8 L496.4,271.8 L496.8,271.8 L497.2,271.8 L497.6,271.8 L498.0,271.8 L498.4,271.8 L498.8,271.8 L499.2,271.8 L499.6,271.8 L500.0,271.8 L500.4,271.8 L500.8,271.8 L501.2,271.8 L501.6,271.8 L502.0,271.8 L502.4,271.8 L502.8,271.8 L503.2,271.8 L503.6,271.8 L504.0,271.8 L504.4,271.8 L504.8,271.8 L505.2,271.8 L505.6,271.8 L506.0,271.8 L506.4,271.8 L506.8,271.8 L507.2,271.8 L507.6,271.8 L508.0,271.8 L508.4,271.8 L508.8,271.8 L509.2,271.8 L509.6,271.8 L510.0,271.8 L510.4,271.8 L510.8,271.8 L511.2,271.8 L511.6,271.8 L512.0,271.8 L512.4,271.8 L512.8,271.8 L513.2,271.8 L513.6,271.8 L514.0,271.8 L514.4,271.8 L514.8,271.8 L515.2,271.8 L515.6,271.8 L516.0,271.8 L516.4,271.8 L516.8,271.8 L517.2,271.8 L517.6,271.8 L518.0,271.8 L518.4,271.8 L518.8,271.8 L519.2,271.8 L519.6,271.8 L520.0,271.8" stroke="#000000" stroke-width="2.3"/>
<path d="M399.0,271.8 L399.4,271.8 L399.8,271.8 L400.2,271.8 L400.6,271.8 L401.0,271.8 L401.4,271.8 L401.8,271.8 L402.2,271.8 L402.6,271.8 L403.0,271.8 L403.4,271.8 L403.8,271.8 L404.2,271.8 L404.6,271.8 L405.0,271.8 L405.4,271.8 L405.8,271.8 L406.2,271.8 L406.6,271.8 L407.0,271.8 L407.4,271.8 L407.8,271.8 L408.2,271.8 L408.6,271.8 L409.0,271.8 L409.4,271.8 L409.8,271.8 L410.2,271.8 L410.6,271.8 L411.0,271.8 L411.4,271.8 L411.8,271.8 L412.2,271.8 L412.6,271.8 L413.0,271.8 L413.4,271.8 L413.8,271.8 L414.2,271.8 L414.6,271.8 L415.0,271.8 L415.4,271.8 L415.8,271.8 L416.2,271.8 L416.6,271.8 L417.0,271.8 L417.4,271.8 L417.8,271.8 L418.2,271.8 L418.6,271.8 L419.0,271.8 L419.4,271.8 L419.8,271.8 L420.2,271.8 L420.6,271.8 L421.0,271.8 L421.4,271.8 L421.8,271.8 L422.2,271.8 L422.6,271.8 L423.0,271.8 L423.4,271.8 L423.8,271.8 L424.2,271.8 L424.6,271.7 L425.0,271.7 L425.4,271.5 L425.8,271.3 L426.2,271.0 L426.6,270.4 L427.0,269.4 L427.4,267.9 L427.8,265.6 L428.2,262.1 L428.6,257.0 L429.0,249.9 L429.3,240.2 L429.7,227.4 L430.1,210.8 L430.5,190.3 L430.9,165.5 L431.3,136.7 L431.7,104.4 L432.1,69.6 L432.5,33.8 L432.9,-1.4 L433.3,-33.8 L433.7,-60.0 L434.1,-60.0 L434.5,-60.0 L434.9,-60.0 L435.3,-60.0 L435.7,-60.0 L436.1,-56.3 L436.5,-27.5 L436.9,5.6 L437.3,41.1 L437.7,76.8 L438.1,111.2 L438.5,142.9 L438.9,170.9 L439.3,194.8 L439.7,214.5 L440.1,230.2 L440.5,242.4 L440.9,251.5 L441.3,258.1 L441.7,262.7 L442.1,265.8 L442.5,267.8 L442.9,269.0 L443.3,269.7 L443.7,269.9 L444.1,269.7 L444.5,269.4 L444.9,268.8 L445.3,268.1 L445.7,267.2 L446.1,266.2 L446.5,265.2 L446.9,264.1 L447.3,263.0 L447.7,262.0 L448.1,261.1 L448.5,260.4 L448.9,259.9 L449.3,259.6 L449.7,259.6 L450.1,259.9 L450.5,260.4 L450.9,261.2 L451.3,262.1 L451.7,263.1 L452.1,264.2 L452.5,265.3 L452.9,266.3 L453.3,267.3 L453.7,268.2 L454.1,269.0 L454.5,269.6 L454.9,270.2 L455.3,270.6 L455.7,270.9 L456.1,271.2 L456.5,271.4 L456.9,271.5 L457.3,271.6 L457.7,271.7 L458.1,271.7 L458.5,271.8 L458.9,271.8 L459.3,271.8 L459.7,271.8 L460.1,271.8 L460.5,271.8 L460.9,271.8 L461.3,271.8 L461.7,271.8 L462.1,271.8 L462.5,271.8 L462.9,271.8 L463.3,271.8 L463.7,271.8 L464.1,271.8 L464.5,271.8 L464.9,271.8 L465.3,271.8 L465.7,271.8 L466.1,271.8 L466.5,271.8 L466.9,271.8 L467.3,271.8 L467.7,271.8 L468.1,271.8 L468.5,271.8 L468.9,271.8 L469.3,271.8 L469.7,271.8 L470.1,271.8 L470.5,271.8 L470.9,271.8 L471.3,271.8 L471.7,271.8 L472.1,271.8 L472.5,271.8 L472.9,271.8 L473.3,271.8 L473.7,271.8 L474.1,271.8 L474.5,271.8 L474.9,271.8 L475.3,271.8 L475.7,271.8 L476.1,271.8 L476.5,271.8 L476.9,271.8 L477.3,271.8 L477.7,271.8 L478.1,271.8 L478.5,271.8 L478.9,271.8 L479.3,271.8 L479.7,271.8 L480.1,271.8 L480.5,271.8 L480.9,271.8 L481.3,271.8 L481.7,271.8 L482.1,271.8 L482.5,271.8 L482.9,271.8 L483.3,271.8 L483.7,271.8 L484.1,271.8 L484.5,271.8 L484.9,271.8 L485.3,271.8 L485.7,271.8 L486.1,271.8 L486.5,271.8 L486.9,271.8 L487.3,271.8 L487.7,271.8 L488.1,271.8 L488.5,271.8 L488.9,271.8 L489.3,271.8 L489.7,271.8 L490.0,271.8 L490.4,271.8 L490.8,271.8 L491.2,271.8 L491.6,271.8 L492.0,271.8 L492.4,271.8 L492.8,271.8 L493.2,271.8 L493.6,271.8 L494.0,271.8 L494.4,271.8 L494.8,271.8 L495.2,271.8 L495.6,271.8 L496.0,271.8 L496.4,271.8 L496.8,271.8 L497.2,271.8 L497.6,271.8 L498.0,271.8 L498.4,271.8 L498.8,271.8 L499.2,271.8 L499.6,271.8 L500.0,271.8 L500.4,271.8 L500.8,271.8 L501.2,271.8 L501.6,271.8 L502.0,271.8 L502.4,271.8 L502.8,271.8 L503.2,271.8 L503.6,271.8 L504.0,271.8 L504.4,271.8 L504.8,271.8 L505.2,271.8 L505.6,271.8 L506.0,271.8 L506.4,271.8 L506.8,271.8 L507.2,271.8 L507.6,271.8 L508.0,271.8 L508.4,271.8 L508.8,271.8 L509.2,271.8 L509.6,271.8 L510.0,271.8 L510.4,271.8 L510.8,271.8 L511.2,271.8 L511.6,271.8 L512.0,271.8 L512.4,271.8 L512.8,271.8 L513.2,271.8 L513.6,271.8 L514.0,271.8 L514.4,271.8 L514.8,271.8 L515.2,271.8 L515.6,271.8 L516.0,271.8 L516.4,271.8 L516.8,271.8 L517.2,271.8 L517.6,271.8 L518.0,271.8 L518.4,271.8 L518.8,271.8 L519.2,271.8 L519.6,271.8 L520.0,271.8" stroke="#1414b4" stroke-width="2.3"/>
<path d="M399.0,271.8 L399.4,271.8 L399.8,271.8 L400.2,271.8 L400.6,271.8 L401.0,271.8 L401.4,271.8 L401.8,271.8 L402.2,271.8 L402.6,271.8 L403.0,271.8 L403.4,271.8 L403.8,271.8 L404.2,271.8 L404.6,271.8 L405.0,271.8 L405.4,271.8 L405.8,271.8 L406.2,271.8 L406.6,271.8 L407.0,271.8 L407.4,271.8 L407.8,271.8 L408.2,271.8 L408.6,271.8 L409.0,271.8 L409.4,271.8 L409.8,271.8 L410.2,271.8 L410.6,271.8 L411.0,271.8 L411.4,271.8 L411.8,271.8 L412.2,271.8 L412.6,271.8 L413.0,271.8 L413.4,271.8 L413.8,271.8 L414.2,271.8 L414.6,271.8 L415.0,271.8 L415.4,271.8 L415.8,271.8 L416.2,271.8 L416.6,271.8 L417.0,271.8 L417.4,271.8 L417.8,271.8 L418.2,271.8 L418.6,271.8 L419.0,271.8 L419.4,271.8 L419.8,271.8 L420.2,271.8 L420.6,271.8 L421.0,271.8 L421.4,271.8 L421.8,271.8 L422.2,271.8 L422.6,271.8 L423.0,271.8 L423.4,271.8 L423.8,271.8 L424.2,271.8 L424.6,271.7 L425.0,271.7 L425.4,271.5 L425.8,271.3 L426.2,271.0 L426.6,270.4 L427.0,269.4 L427.4,267.9 L427.8,265.6 L428.2,262.1 L428.6,257.0 L429.0,249.9 L429.3,240.2 L429.7,227.4 L430.1,210.8 L430.5,190.3 L430.9,165.5 L431.3,136.7 L431.7,104.4 L432.1,69.6 L432.5,33.8 L432.9,-1.4 L433.3,-33.8 L433.7,-60.0 L434.1,-60.0 L434.5,-60.0 L434.9,-60.0 L435.3,-60.0 L435.7,-60.0 L436.1,-56.3 L436.5,-27.5 L436.9,5.6 L437.3,41.1 L437.7,76.8 L438.1,111.2 L438.5,142.9 L438.9,170.9 L439.3,194.8 L439.7,214.5 L440.1,230.2 L440.5,242.3 L440.9,251.4 L441.3,257.9 L441.7,262.4 L442.1,265.3 L442.5,267.1 L442.9,267.9 L443.3,268.1 L443.7,267.7 L444.1,266.8 L444.5,265.4 L444.9,263.7 L445.3,261.5 L445.7,259.0 L446.1,256.3 L446.5,253.3 L446.9,250.3 L447.3,247.2 L447.7,244.4 L448.1,241.9 L448.5,239.9 L448.9,238.5 L449.3,237.8 L449.7,237.8 L450.1,238.6 L450.5,240.0 L450.9,242.1 L451.3,244.6 L451.7,247.5 L452.1,250.5 L452.5,253.6 L452.9,256.5 L453.3,259.3 L453.7,261.8 L454.1,263.9 L454.5,265.8 L454.9,267.3 L455.3,268.5 L455.7,269.4 L456.1,270.1 L456.5,270.6 L456.9,271.0 L457.3,271.3 L457.7,271.5 L458.1,271.6 L458.5,271.6 L458.9,271.7 L459.3,271.7 L459.7,271.6 L460.1,271.6 L460.5,271.5 L460.9,271.4 L461.3,271.2 L461.7,271.1 L462.1,270.9 L462.5,270.6 L462.9,270.4 L463.3,270.2 L463.7,270.0 L464.1,269.8 L464.5,269.7 L464.9,269.6 L465.3,269.6 L465.7,269.7 L466.1,269.8 L466.5,270.0 L466.9,270.2 L467.3,270.4 L467.7,270.6 L468.1,270.9 L468.5,271.1 L468.9,271.2 L469.3,271.4 L469.7,271.5 L470.1,271.6 L470.5,271.7 L470.9,271.7 L471.3,271.7 L471.7,271.8 L472.1,271.8 L472.5,271.8 L472.9,271.8 L473.3,271.8 L473.7,271.8 L474.1,271.8 L474.5,271.8 L474.9,271.8 L475.3,271.8 L475.7,271.8 L476.1,271.8 L476.5,271.8 L476.9,271.8 L477.3,271.8 L477.7,271.8 L478.1,271.8 L478.5,271.8 L478.9,271.8 L479.3,271.8 L479.7,271.8 L480.1,271.8 L480.5,271.8 L480.9,271.8 L481.3,271.8 L481.7,271.8 L482.1,271.8 L482.5,271.8 L482.9,271.8 L483.3,271.8 L483.7,271.8 L484.1,271.8 L484.5,271.8 L484.9,271.8 L485.3,271.8 L485.7,271.8 L486.1,271.8 L486.5,271.8 L486.9,271.8 L487.3,271.8 L487.7,271.8 L488.1,271.8 L488.5,271.8 L488.9,271.8 L489.3,271.8 L489.7,271.8 L490.0,271.8 L490.4,271.8 L490.8,271.8 L491.2,271.8 L491.6,271.8 L492.0,271.8 L492.4,271.8 L492.8,271.8 L493.2,271.8 L493.6,271.8 L494.0,271.8 L494.4,271.8 L494.8,271.8 L495.2,271.8 L495.6,271.8 L496.0,271.8 L496.4,271.8 L496.8,271.8 L497.2,271.8 L497.6,271.8 L498.0,271.8 L498.4,271.8 L498.8,271.8 L499.2,271.8 L499.6,271.8 L500.0,271.8 L500.4,271.8 L500.8,271.8 L501.2,271.8 L501.6,271.8 L502.0,271.8 L502.4,271.8 L502.8,271.8 L503.2,271.8 L503.6,271.8 L504.0,271.8 L504.4,271.8 L504.8,271.8 L505.2,271.8 L505.6,271.8 L506.0,271.8 L506.4,271.8 L506.8,271.8 L507.2,271.8 L507.6,271.8 L508.0,271.8 L508.4,271.8 L508.8,271.8 L509.2,271.8 L509.6,271.8 L510.0,271.8 L510.4,271.8 L510.8,271.8 L511.2,271.8 L511.6,271.8 L512.0,271.8 L512.4,271.8 L512.8,271.8 L513.2,271.8 L513.6,271.8 L514.0,271.8 L514.4,271.8 L514.8,271.8 L515.2,271.8 L515.6,271.8 L516.0,271.8 L516.4,271.8 L516.8,271.8 L517.2,271.8 L517.6,271.8 L518.0,271.8 L518.4,271.8 L518.8,271.8 L519.2,271.8 L519.6,271.8 L520.0,271.8" stroke="#f7a21b" stroke-width="2.3"/>
<path d="M399.0,271.8 L399.4,271.8 L399.8,271.8 L400.2,271.8 L400.6,271.8 L401.0,271.8 L401.4,271.8 L401.8,271.8 L402.2,271.8 L402.6,271.8 L403.0,271.8 L403.4,271.8 L403.8,271.8 L404.2,271.8 L404.6,271.8 L405.0,271.8 L405.4,271.8 L405.8,271.8 L406.2,271.8 L406.6,271.8 L407.0,271.8 L407.4,271.8 L407.8,271.8 L408.2,271.8 L408.6,271.8 L409.0,271.8 L409.4,271.8 L409.8,271.8 L410.2,271.8 L410.6,271.8 L411.0,271.8 L411.4,271.8 L411.8,271.8 L412.2,271.8 L412.6,271.8 L413.0,271.8 L413.4,271.8 L413.8,271.8 L414.2,271.8 L414.6,271.8 L415.0,271.8 L415.4,271.8 L415.8,271.8 L416.2,271.8 L416.6,271.8 L417.0,271.8 L417.4,271.8 L417.8,271.8 L418.2,271.8 L418.6,271.8 L419.0,271.8 L419.4,271.8 L419.8,271.8 L420.2,271.8 L420.6,271.8 L421.0,271.8 L421.4,271.8 L421.8,271.8 L422.2,271.8 L422.6,271.8 L423.0,271.8 L423.4,271.8 L423.8,271.8 L424.2,271.8 L424.6,271.7 L425.0,271.7 L425.4,271.5 L425.8,271.3 L426.2,271.0 L426.6,270.4 L427.0,269.4 L427.4,267.9 L427.8,265.6 L428.2,262.1 L428.6,257.0 L429.0,249.9 L429.3,240.2 L429.7,227.4 L430.1,210.8 L430.5,190.3 L430.9,165.5 L431.3,136.7 L431.7,104.4 L432.1,69.6 L432.5,33.8 L432.9,-1.4 L433.3,-33.8 L433.7,-60.0 L434.1,-60.0 L434.5,-60.0 L434.9,-60.0 L435.3,-60.0 L435.7,-60.0 L436.1,-56.3 L436.5,-27.5 L436.9,5.6 L437.3,41.1 L437.7,76.8 L438.1,111.2 L438.5,142.8 L438.9,170.8 L439.3,194.7 L439.7,214.4 L440.1,230.1 L440.5,242.2 L440.9,251.2 L441.3,257.6 L441.7,261.9 L442.1,264.5 L442.5,265.9 L442.9,266.3 L443.3,265.7 L443.7,264.3 L444.1,262.2 L444.5,259.4 L444.9,255.8 L445.3,251.5 L445.7,246.6 L446.1,241.1 L446.5,235.3 L446.9,229.2 L447.3,223.3 L447.7,217.7 L448.1,212.7 L448.5,208.7 L448.9,206.0 L449.3,204.6 L449.7,204.6 L450.1,206.1 L450.5,209.0 L450.9,213.1 L451.3,218.1 L451.7,223.7 L452.1,229.7 L452.5,235.8 L452.9,241.6 L453.3,247.1 L453.7,252.0 L454.1,256.3 L454.5,259.9 L454.9,262.9 L455.3,265.2 L455.7,267.1 L456.1,268.5 L456.5,269.5 L456.9,270.3 L457.3,270.8 L457.7,271.1 L458.1,271.3 L458.5,271.5 L458.9,271.5 L459.3,271.5 L459.7,271.5 L460.1,271.3 L460.5,271.2 L460.9,270.9 L461.3,270.6 L461.7,270.3 L462.1,269.8 L462.5,269.4 L462.9,268.9 L463.3,268.4 L463.7,268.0 L464.1,267.6 L464.5,267.4 L464.9,267.2 L465.3,267.2 L465.7,267.3 L466.1,267.6 L466.5,268.0 L466.9,268.4 L467.3,268.9 L467.7,269.4 L468.1,269.8 L468.5,270.2 L468.9,270.6 L469.3,270.9 L469.7,271.2 L470.1,271.3 L470.5,271.5 L470.9,271.5 L471.3,271.6 L471.7,271.5 L472.1,271.5 L472.5,271.3 L472.9,271.1 L473.3,270.9 L473.7,270.5 L474.1,270.1 L474.5,269.7 L474.9,269.2 L475.3,268.8 L475.7,268.5 L476.1,268.2 L476.5,268.1 L476.9,268.1 L477.3,268.3 L477.7,268.6 L478.1,269.0 L478.5,269.4 L478.9,269.9 L479.3,270.3 L479.7,270.7 L480.1,271.0 L480.5,271.2 L480.9,271.4 L481.3,271.6 L481.7,271.6 L482.1,271.7 L482.5,271.7 L482.9,271.8 L483.3,271.8 L483.7,271.8 L484.1,271.8 L484.5,271.8 L484.9,271.8 L485.3,271.8 L485.7,271.8 L486.1,271.8 L486.5,271.8 L486.9,271.8 L487.3,271.8 L487.7,271.8 L488.1,271.8 L488.5,271.8 L488.9,271.8 L489.3,271.8 L489.7,271.8 L490.0,271.8 L490.4,271.8 L490.8,271.8 L491.2,271.8 L491.6,271.8 L492.0,271.8 L492.4,271.8 L492.8,271.8 L493.2,271.8 L493.6,271.8 L494.0,271.8 L494.4,271.8 L494.8,271.8 L495.2,271.8 L495.6,271.8 L496.0,271.8 L496.4,271.8 L496.8,271.8 L497.2,271.8 L497.6,271.8 L498.0,271.8 L498.4,271.8 L498.8,271.8 L499.2,271.8 L499.6,271.8 L500.0,271.8 L500.4,271.8 L500.8,271.8 L501.2,271.8 L501.6,271.8 L502.0,271.8 L502.4,271.8 L502.8,271.8 L503.2,271.8 L503.6,271.8 L504.0,271.8 L504.4,271.8 L504.8,271.8 L505.2,271.8 L505.6,271.8 L506.0,271.8 L506.4,271.8 L506.8,271.8 L507.2,271.8 L507.6,271.8 L508.0,271.8 L508.4,271.8 L508.8,271.8 L509.2,271.8 L509.6,271.8 L510.0,271.8 L510.4,271.8 L510.8,271.8 L511.2,271.8 L511.6,271.8 L512.0,271.8 L512.4,271.8 L512.8,271.8 L513.2,271.8 L513.6,271.8 L514.0,271.8 L514.4,271.8 L514.8,271.8 L515.2,271.8 L515.6,271.8 L516.0,271.8 L516.4,271.8 L516.8,271.8 L517.2,271.8 L517.6,271.8 L518.0,271.8 L518.4,271.8 L518.8,271.8 L519.2,271.8 L519.6,271.8 L520.0,271.8" stroke="#de1618" stroke-width="2.3"/>
</g>
<line x1="100.4" y1="226.6" x2="100.4" y2="254" stroke="#8a8a8a" stroke-width="1"/>
<text x="100.6" y="223.6" font-size="16.5" font-style="italic" fill="#7c7c7c" text-anchor="middle" textLength="18.3" lengthAdjust="spacingAndGlyphs">cis</text>
<line x1="232.6" y1="238.8" x2="232.6" y2="264" stroke="#8a8a8a" stroke-width="1"/>
<text x="232.8" y="234.9" font-size="16.5" font-style="italic" fill="#7c7c7c" text-anchor="middle" textLength="18.3" lengthAdjust="spacingAndGlyphs">cis</text>
<line x1="363.5" y1="240.3" x2="363.5" y2="267" stroke="#8a8a8a" stroke-width="1"/>
<text x="363.6" y="237.3" font-size="16.5" font-style="italic" fill="#7c7c7c" text-anchor="middle" textLength="18.3" lengthAdjust="spacingAndGlyphs">cis</text>
<line x1="476.6" y1="241.5" x2="476.6" y2="268" stroke="#8a8a8a" stroke-width="1"/>
<text x="476.8" y="238.1" font-size="16.5" font-style="italic" fill="#7c7c7c" text-anchor="middle" textLength="18.3" lengthAdjust="spacingAndGlyphs">cis</text>
<text x="93.0" y="89.6" font-size="17.5" stroke="#000" stroke-width="0.55">c</text>
<text x="229.4" y="127.2" font-size="17.5" stroke="#000" stroke-width="0.55" textLength="17.2" lengthAdjust="spacingAndGlyphs">c?</text>
<text x="351.2" y="126.2" font-size="17.5" stroke="#000" stroke-width="0.55" textLength="17.2" lengthAdjust="spacingAndGlyphs">c?</text>
<text x="479.0" y="127.6" font-size="17.5" stroke="#000" stroke-width="0.55" textLength="17.2" lengthAdjust="spacingAndGlyphs">c?</text>
<rect x="27.2" y="26.9" width="118.2" height="119.1" fill="none" stroke="#000" stroke-width="1.6"/>
<rect x="27.2" y="152.4" width="118.2" height="118.9" fill="none" stroke="#000" stroke-width="1.6"/>
<rect x="151.6" y="26.9" width="118.2" height="119.1" fill="none" stroke="#000" stroke-width="1.6"/>
<rect x="151.6" y="152.4" width="118.2" height="118.9" fill="none" stroke="#000" stroke-width="1.6"/>
<rect x="276.0" y="26.9" width="118.2" height="119.1" fill="none" stroke="#000" stroke-width="1.6"/>
<rect x="276.0" y="152.4" width="118.2" height="118.9" fill="none" stroke="#000" stroke-width="1.6"/>
<rect x="400.4" y="26.9" width="118.2" height="119.1" fill="none" stroke="#000" stroke-width="1.6"/>
<rect x="400.4" y="152.4" width="118.2" height="118.9" fill="none" stroke="#000" stroke-width="1.6"/>
<line x1="41.20" y1="26.9" x2="41.20" y2="30.5" stroke="#000" stroke-width="1.5"/>
<line x1="41.20" y1="271.3" x2="41.20" y2="275.7" stroke="#000" stroke-width="1.5"/>
<line x1="58.10" y1="26.9" x2="58.10" y2="30.5" stroke="#000" stroke-width="1.5"/>
<line x1="58.10" y1="271.3" x2="58.10" y2="275.7" stroke="#000" stroke-width="1.5"/>
<line x1="75.00" y1="26.9" x2="75.00" y2="33.699999999999996" stroke="#000" stroke-width="1.5"/>
<line x1="75.00" y1="271.3" x2="75.00" y2="278.90000000000003" stroke="#000" stroke-width="1.5"/>
<line x1="91.90" y1="26.9" x2="91.90" y2="30.5" stroke="#000" stroke-width="1.5"/>
<line x1="91.90" y1="271.3" x2="91.90" y2="275.7" stroke="#000" stroke-width="1.5"/>
<line x1="108.80" y1="26.9" x2="108.80" y2="30.5" stroke="#000" stroke-width="1.5"/>
<line x1="108.80" y1="271.3" x2="108.80" y2="275.7" stroke="#000" stroke-width="1.5"/>
<line x1="125.70" y1="26.9" x2="125.70" y2="30.5" stroke="#000" stroke-width="1.5"/>
<line x1="125.70" y1="271.3" x2="125.70" y2="275.7" stroke="#000" stroke-width="1.5"/>
<line x1="142.60" y1="26.9" x2="142.60" y2="33.699999999999996" stroke="#000" stroke-width="1.5"/>
<line x1="142.60" y1="271.3" x2="142.60" y2="278.90000000000003" stroke="#000" stroke-width="1.5"/>
<line x1="158.70" y1="26.9" x2="158.70" y2="30.5" stroke="#000" stroke-width="1.5"/>
<line x1="158.70" y1="271.3" x2="158.70" y2="275.7" stroke="#000" stroke-width="1.5"/>
<line x1="175.60" y1="26.9" x2="175.60" y2="30.5" stroke="#000" stroke-width="1.5"/>
<line x1="175.60" y1="271.3" x2="175.60" y2="275.7" stroke="#000" stroke-width="1.5"/>
<line x1="192.50" y1="26.9" x2="192.50" y2="33.699999999999996" stroke="#000" stroke-width="1.5"/>
<line x1="192.50" y1="271.3" x2="192.50" y2="278.90000000000003" stroke="#000" stroke-width="1.5"/>
<line x1="209.40" y1="26.9" x2="209.40" y2="30.5" stroke="#000" stroke-width="1.5"/>
<line x1="209.40" y1="271.3" x2="209.40" y2="275.7" stroke="#000" stroke-width="1.5"/>
<line x1="226.30" y1="26.9" x2="226.30" y2="30.5" stroke="#000" stroke-width="1.5"/>
<line x1="226.30" y1="271.3" x2="226.30" y2="275.7" stroke="#000" stroke-width="1.5"/>
<line x1="243.20" y1="26.9" x2="243.20" y2="30.5" stroke="#000" stroke-width="1.5"/>
<line x1="243.20" y1="271.3" x2="243.20" y2="275.7" stroke="#000" stroke-width="1.5"/>
<line x1="260.10" y1="26.9" x2="260.10" y2="33.699999999999996" stroke="#000" stroke-width="1.5"/>
<line x1="260.10" y1="271.3" x2="260.10" y2="278.90000000000003" stroke="#000" stroke-width="1.5"/>
<line x1="278.94" y1="26.9" x2="278.94" y2="30.5" stroke="#000" stroke-width="1.5"/>
<line x1="278.94" y1="271.3" x2="278.94" y2="275.7" stroke="#000" stroke-width="1.5"/>
<line x1="295.90" y1="26.9" x2="295.90" y2="33.699999999999996" stroke="#000" stroke-width="1.5"/>
<line x1="295.90" y1="271.3" x2="295.90" y2="278.90000000000003" stroke="#000" stroke-width="1.5"/>
<line x1="312.86" y1="26.9" x2="312.86" y2="30.5" stroke="#000" stroke-width="1.5"/>
<line x1="312.86" y1="271.3" x2="312.86" y2="275.7" stroke="#000" stroke-width="1.5"/>
<line x1="329.82" y1="26.9" x2="329.82" y2="30.5" stroke="#000" stroke-width="1.5"/>
<line x1="329.82" y1="271.3" x2="329.82" y2="275.7" stroke="#000" stroke-width="1.5"/>
<line x1="346.78" y1="26.9" x2="346.78" y2="30.5" stroke="#000" stroke-width="1.5"/>
<line x1="346.78" y1="271.3" x2="346.78" y2="275.7" stroke="#000" stroke-width="1.5"/>
<line x1="363.74" y1="26.9" x2="363.74" y2="33.699999999999996" stroke="#000" stroke-width="1.5"/>
<line x1="363.74" y1="271.3" x2="363.74" y2="278.90000000000003" stroke="#000" stroke-width="1.5"/>
<line x1="380.70" y1="26.9" x2="380.70" y2="30.5" stroke="#000" stroke-width="1.5"/>
<line x1="380.70" y1="271.3" x2="380.70" y2="275.7" stroke="#000" stroke-width="1.5"/>
<line x1="401.60" y1="26.9" x2="401.60" y2="33.699999999999996" stroke="#000" stroke-width="1.5"/>
<line x1="401.60" y1="271.3" x2="401.60" y2="278.90000000000003" stroke="#000" stroke-width="1.5"/>
<line x1="418.53" y1="26.9" x2="418.53" y2="30.5" stroke="#000" stroke-width="1.5"/>
<line x1="418.53" y1="271.3" x2="418.53" y2="275.7" stroke="#000" stroke-width="1.5"/>
<line x1="435.46" y1="26.9" x2="435.46" y2="30.5" stroke="#000" stroke-width="1.5"/>
<line x1="435.46" y1="271.3" x2="435.46" y2="275.7" stroke="#000" stroke-width="1.5"/>
<line x1="452.39" y1="26.9" x2="452.39" y2="30.5" stroke="#000" stroke-width="1.5"/>
<line x1="452.39" y1="271.3" x2="452.39" y2="275.7" stroke="#000" stroke-width="1.5"/>
<line x1="469.32" y1="26.9" x2="469.32" y2="33.699999999999996" stroke="#000" stroke-width="1.5"/>
<line x1="469.32" y1="271.3" x2="469.32" y2="278.90000000000003" stroke="#000" stroke-width="1.5"/>
<line x1="486.25" y1="26.9" x2="486.25" y2="30.5" stroke="#000" stroke-width="1.5"/>
<line x1="486.25" y1="271.3" x2="486.25" y2="275.7" stroke="#000" stroke-width="1.5"/>
<line x1="503.18" y1="26.9" x2="503.18" y2="30.5" stroke="#000" stroke-width="1.5"/>
<line x1="503.18" y1="271.3" x2="503.18" y2="275.7" stroke="#000" stroke-width="1.5"/>
<text x="86.3" y="18.2" font-size="26.3" text-anchor="middle">HCOOH</text>
<text x="210.7" y="18.2" font-size="26.3" text-anchor="middle"><tspan fill="#de1618">D</tspan>COOH</text>
<text x="335.1" y="18.2" font-size="26.3" text-anchor="middle">HCOO<tspan fill="#de1618">D</tspan></text>
<text x="459.5" y="18.2" font-size="26.3" text-anchor="middle"><tspan fill="#de1618">D</tspan>COO<tspan fill="#de1618">D</tspan></text>
<text x="75.0" y="303" font-size="23" text-anchor="middle">1100</text>
<text x="192.5" y="303" font-size="23" text-anchor="middle">1140</text>
<text x="363.7" y="303" font-size="23" text-anchor="middle">1160</text>
<text x="469.5" y="303" font-size="23" text-anchor="middle">1160</text>
<text x="176" y="333.6" font-size="23" textLength="116.5" lengthAdjust="spacingAndGlyphs">wavenumber</text>
<line x1="312.2" y1="316.4" x2="303.0" y2="339.8" stroke="#000" stroke-width="1.15"/>
<text x="320.5" y="333.6" font-size="23" textLength="27.6" lengthAdjust="spacingAndGlyphs">cm</text>
<line x1="349.9" y1="321.4" x2="360.6" y2="321.4" stroke="#000" stroke-width="1.1"/>
<text x="363" y="325.6" font-size="15.5">1</text>
<text transform="translate(17.2,86.7) rotate(-90)" font-size="22.8" text-anchor="middle" textLength="43.5" lengthAdjust="spacingAndGlyphs">exp.</text>
<text transform="translate(17.4,211.2) rotate(-90)" font-size="22.4" text-anchor="middle" textLength="48" lengthAdjust="spacingAndGlyphs">calc.</text>
</svg></body></html>
